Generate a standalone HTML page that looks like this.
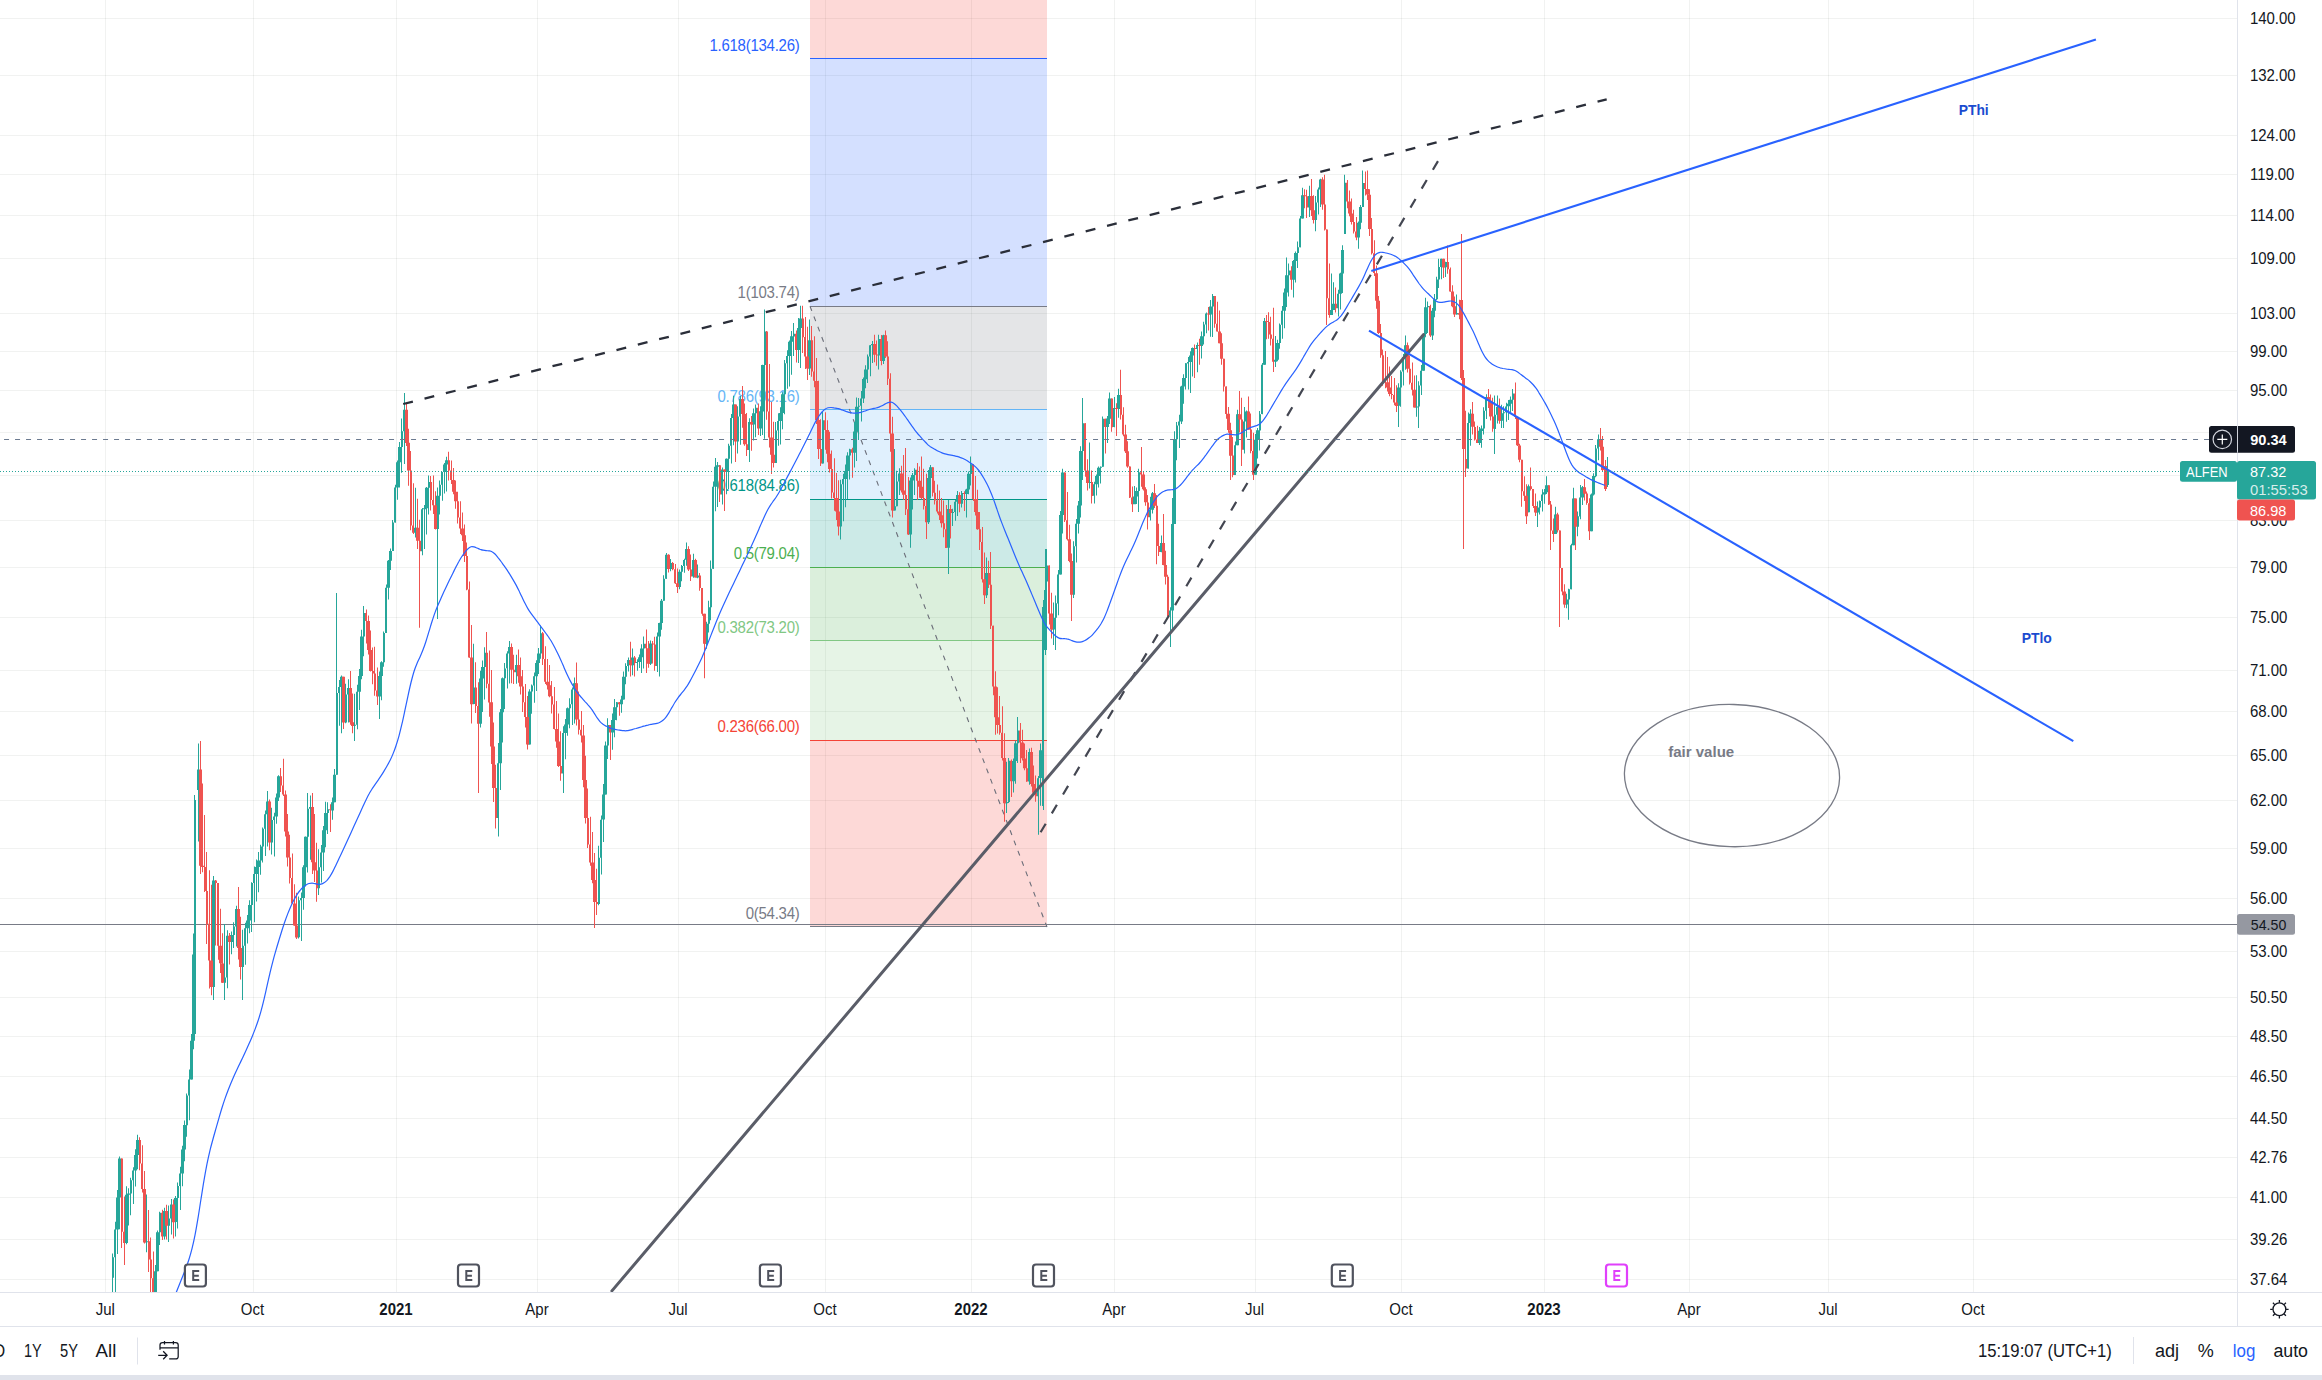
<!DOCTYPE html><html><head><meta charset="utf-8"><title>ALFEN chart</title><style>
html,body{margin:0;padding:0;width:2322px;height:1380px;overflow:hidden;background:#fff}
svg{position:absolute;left:0;top:0;font-family:"Liberation Sans",sans-serif}
.pl{font-size:15px;letter-spacing:-0.05px;fill:#131722}
.tl{font-size:15px;fill:#131722;text-anchor:middle}
.fb{font-size:15px;text-anchor:end;letter-spacing:-0.25px}
.bt{font-size:16.5px;fill:#131722}
</style></head><body>
<svg width="2322" height="1380" viewBox="0 0 2322 1380">
<defs><clipPath id="cp"><rect x="0" y="0" width="2237" height="1292"/></clipPath></defs>
<rect width="2322" height="1380" fill="#fff"/>
<path d="M0 18.5H2237M0 75.5H2237M0 135.5H2237M0 174.5H2237M0 215.5H2237M0 258.5H2237M0 313.5H2237M0 351.5H2237M0 390.5H2237M0 432.5H2237M0 475.5H2237M0 520.5H2237M0 567.5H2237M0 617.5H2237M0 670.5H2237M0 711.5H2237M0 755.5H2237M0 800.5H2237M0 848.5H2237M0 898.5H2237M0 951.5H2237M0 997.5H2237M0 1036.5H2237M0 1076.5H2237M0 1118.5H2237M0 1157.5H2237M0 1197.5H2237M0 1239.5H2237M0 1279.5H2237" stroke="#2e3a34" stroke-opacity="0.065" stroke-width="1" fill="none"/>
<path d="M105.5 0V1292M253.5 0V1292M396.5 0V1292M537.5 0V1292M678.5 0V1292M825.5 0V1292M971.5 0V1292M1114.5 0V1292M1255.5 0V1292M1401.5 0V1292M1544.5 0V1292M1689.5 0V1292M1828.5 0V1292M1973.5 0V1292" stroke="#2e3a34" stroke-opacity="0.065" stroke-width="1" fill="none"/>
<g clip-path="url(#cp)">
<rect x="810" y="740.3" width="237" height="186.5" fill="#f44336" fill-opacity="0.2"/>
<rect x="810" y="641" width="237" height="99.4" fill="#81c784" fill-opacity="0.2"/>
<rect x="810" y="567.3" width="237" height="73.7" fill="#4caf50" fill-opacity="0.2"/>
<rect x="810" y="499.1" width="237" height="68.2" fill="#009688" fill-opacity="0.2"/>
<rect x="810" y="409.6" width="237" height="89.5" fill="#64b5f6" fill-opacity="0.2"/>
<rect x="810" y="306.4" width="237" height="103.2" fill="#787b86" fill-opacity="0.2"/>
<rect x="810" y="58.9" width="237" height="247.5" fill="#2962ff" fill-opacity="0.2"/>
<rect x="810" y="0" width="237" height="58.9" fill="#f44336" fill-opacity="0.2"/>
<path d="M810 926.5H1047" stroke="#787b86" stroke-width="1.2"/>
<path d="M810 740.5H1047" stroke="#f44336" stroke-width="1.2"/>
<path d="M810 640.5H1047" stroke="#81c784" stroke-width="1.2"/>
<path d="M810 567.5H1047" stroke="#4caf50" stroke-width="1.2"/>
<path d="M810 499.5H1047" stroke="#009688" stroke-width="1.2"/>
<path d="M810 409.5H1047" stroke="#64b5f6" stroke-width="1.2"/>
<path d="M810 306.5H1047" stroke="#787b86" stroke-width="1.2"/>
<path d="M810 58.5H1047" stroke="#2962ff" stroke-width="1.2"/>
<path d="M810 306.2L1047 927" stroke="#6a6d78" stroke-width="1.1" stroke-dasharray="5 6" fill="none"/>
<text class="fb" transform="translate(799.5 918.8) scale(1 1.06)" fill="#787b86">0(54.34)</text>
<text class="fb" transform="translate(799.5 732.3) scale(1 1.06)" fill="#f44336">0.236(66.00)</text>
<text class="fb" transform="translate(799.5 633) scale(1 1.06)" fill="#81c784">0.382(73.20)</text>
<text class="fb" transform="translate(799.5 559.3) scale(1 1.06)" fill="#4caf50">0.5(79.04)</text>
<text class="fb" transform="translate(799.5 491.1) scale(1 1.06)" fill="#009688">0.618(84.86)</text>
<text class="fb" transform="translate(799.5 401.6) scale(1 1.06)" fill="#64b5f6">0.786(93.16)</text>
<text class="fb" transform="translate(799.5 298.4) scale(1 1.06)" fill="#787b86">1(103.74)</text>
<text class="fb" transform="translate(799.5 50.9) scale(1 1.06)" fill="#2962ff">1.618(134.26)</text>
<path d="M0 924.5H2237" stroke="#787b86" stroke-width="1"/>
<path d="M112 1253.6h1V1296.4h-1ZM115 1221.8h1V1300h-1ZM117 1190h1V1254.1h-1ZM119 1156.5h1V1229.3h-1ZM126 1186.2h1V1244.3h-1ZM128 1188.3h1V1225.6h-1ZM130 1177.8h1V1215.3h-1ZM133 1167.2h1V1203.9h-1ZM135 1149.3h1V1186.5h-1ZM137 1134.8h1V1169.3h-1ZM146 1194.4h1V1252.3h-1ZM155 1264.9h1V1300h-1ZM157 1230.4h1V1271.2h-1ZM159 1211.8h1V1244.9h-1ZM164 1207.8h1V1239.5h-1ZM168 1205.6h1V1242h-1ZM171 1199.1h1V1234.4h-1ZM175 1196h1V1236.4h-1ZM177 1182.6h1V1228.6h-1ZM180 1166.7h1V1210.1h-1ZM182 1145.8h1V1186.2h-1ZM184 1120.6h1V1161.3h-1ZM186 1093.5h1V1136.7h-1ZM189 1069.4h1V1120.2h-1ZM191 1034h1V1079.4h-1ZM193 933.5h1V1049.3h-1ZM194 795h1V1040h-1ZM198 743.5h1V841.4h-1ZM213 876.1h1V1000h-1ZM224 924.1h1V1000h-1ZM227 930.2h1V988.3h-1ZM231 931.4h1V954.2h-1ZM233 922.3h1V947.9h-1ZM236 905.7h1V946.5h-1ZM242 929.7h1V1000h-1ZM245 922.8h1V964.7h-1ZM247 915.1h1V943.5h-1ZM249 900.3h1V933.2h-1ZM251 882.3h1V931.9h-1ZM254 866.4h1V922.3h-1ZM256 859.5h1V901.5h-1ZM258 852h1V892.3h-1ZM260 844.8h1V874.7h-1ZM262 827.6h1V862.4h-1ZM265 810.5h1V855.9h-1ZM267 791h1V846.4h-1ZM271 807.7h1V854.5h-1ZM274 812.8h1V856.5h-1ZM276 793.6h1V823.7h-1ZM278 775.3h1V801.1h-1ZM298 896.5h1V938.6h-1ZM301 892.5h1V940.9h-1ZM303 865.3h1V909.8h-1ZM305 836.6h1V886.5h-1ZM307 793h1V872.4h-1ZM310 795.6h1V859.8h-1ZM318 849.2h1V895.1h-1ZM321 844.9h1V882.6h-1ZM323 826h1V871.1h-1ZM325 801.7h1V847.2h-1ZM327 802.3h1V834h-1ZM332 797.4h1V819.8h-1ZM334 769.1h1V802.2h-1ZM336 593h1V774.7h-1ZM339 679.9h1V725.8h-1ZM341 675.6h1V733.2h-1ZM345 683.8h1V723.3h-1ZM348 679.2h1V722.6h-1ZM354 693.7h1V741h-1ZM357 684.8h1V729.2h-1ZM359 669.1h1V710h-1ZM361 629.8h1V679.2h-1ZM363 606h1V656.3h-1ZM379 671.4h1V719h-1ZM381 661.2h1V700.3h-1ZM383 631.4h1V666.7h-1ZM386 584.4h1V633.1h-1ZM388 559.9h1V599.6h-1ZM390 548.4h1V570h-1ZM392 519.9h1V551.1h-1ZM395 484.7h1V522.6h-1ZM397 460.6h1V499.7h-1ZM399 441.9h1V487.6h-1ZM401 418.6h1V472.7h-1ZM404 393h1V464h-1ZM415 487.7h1V537.4h-1ZM422 508h1V555.2h-1ZM424 504.9h1V549h-1ZM426 486.9h1V534.4h-1ZM428 475.6h1V514.6h-1ZM437 487.6h1V619h-1ZM439 480.5h1V514.4h-1ZM442 471.9h1V500.7h-1ZM444 463h1V493.4h-1ZM446 456.7h1V491.5h-1ZM473 643.7h1V704.2h-1ZM480 670.8h1V727.5h-1ZM482 660.6h1V711.9h-1ZM484 647.3h1V699.6h-1ZM498 742.9h1V836.5h-1ZM500 709.1h1V789.9h-1ZM502 677.5h1V742.4h-1ZM504 663h1V709h-1ZM507 651.3h1V688.6h-1ZM509 641h1V683.5h-1ZM516 654.7h1V683.7h-1ZM529 689.3h1V744.6h-1ZM531 684.6h1V713.7h-1ZM534 672.6h1V702.8h-1ZM536 660.3h1V690.9h-1ZM538 648.1h1V674h-1ZM540 625.6h1V658.7h-1ZM563 726.2h1V793h-1ZM565 718.9h1V759.2h-1ZM567 707.5h1V735.8h-1ZM569 698.2h1V728.2h-1ZM572 687.6h1V724.9h-1ZM574 677.5h1V723.6h-1ZM598 845.7h1V905.2h-1ZM601 815.4h1V874.6h-1ZM603 784h1V842.1h-1ZM605 741.4h1V794.4h-1ZM607 718.3h1V759h-1ZM612 713.5h1V749.8h-1ZM614 699h1V737.3h-1ZM616 702.1h1V720.3h-1ZM621 695.7h1V712.7h-1ZM623 671.6h1V699.4h-1ZM625 663.2h1V684.3h-1ZM628 657.5h1V671.4h-1ZM632 648.4h1V675.2h-1ZM637 659.2h1V670.7h-1ZM639 654.6h1V668.1h-1ZM641 644.2h1V673h-1ZM643 636.5h1V668.5h-1ZM650 640.6h1V664.9h-1ZM657 632.5h1V671.9h-1ZM659 622.7h1V676.5h-1ZM661 599.1h1V629.7h-1ZM663 575.3h1V600.7h-1ZM666 553h1V578.8h-1ZM670 558.9h1V571.3h-1ZM679 569.5h1V589.3h-1ZM681 564.9h1V581.2h-1ZM684 558.7h1V572.7h-1ZM686 542.6h1V565.7h-1ZM693 553.8h1V577.8h-1ZM697 564.4h1V578.2h-1ZM706 621.7h1V648.8h-1ZM708 600.7h1V632.4h-1ZM710 560.6h1V620.2h-1ZM713 481.6h1V568.8h-1ZM715 458h1V511.3h-1ZM717 462h1V506.9h-1ZM722 467.5h1V504.4h-1ZM726 458.6h1V494.3h-1ZM728 443.8h1V488.9h-1ZM731 414h1V463.6h-1ZM733 395.7h1V445.3h-1ZM737 406.2h1V453.5h-1ZM740 396h1V444.7h-1ZM749 418.3h1V462h-1ZM753 408.4h1V440.5h-1ZM755 404.5h1V437.2h-1ZM760 406.3h1V436.1h-1ZM762 364.8h1V435.1h-1ZM764 309.6h1V438.7h-1ZM775 421.9h1V462.9h-1ZM778 413.3h1V445.7h-1ZM780 407.3h1V444.5h-1ZM782 392.2h1V429.3h-1ZM784 360h1V414.3h-1ZM787 350.2h1V388.7h-1ZM789 340.6h1V386.4h-1ZM791 330.9h1V374.8h-1ZM793 323h1V356.1h-1ZM798 318h1V362.9h-1ZM800 305.7h1V368h-1ZM809 319.5h1V375.1h-1ZM822 411.1h1V463.4h-1ZM840 479.8h1V539.5h-1ZM843 473.7h1V521.2h-1ZM845 464.5h1V507.2h-1ZM847 452.3h1V498.9h-1ZM849 448.8h1V479.6h-1ZM854 422h1V467.5h-1ZM856 397.6h1V461h-1ZM858 398h1V439.9h-1ZM861 390.9h1V421.4h-1ZM863 377.4h1V403.1h-1ZM865 365.3h1V388.2h-1ZM867 354.4h1V383.1h-1ZM870 345h1V376.3h-1ZM872 341.1h1V363.1h-1ZM878 334.8h1V369.6h-1ZM883 334.8h1V364h-1ZM894 448.9h1V510.4h-1ZM896 470.8h1V506.3h-1ZM899 468.2h1V495.1h-1ZM910 477.6h1V547.8h-1ZM912 473h1V509.5h-1ZM914 468.2h1V495.1h-1ZM928 470h1V523.9h-1ZM930 465h1V498.4h-1ZM948 500h1V574h-1ZM952 508.8h1V525.9h-1ZM955 500h1V520.7h-1ZM957 491h1V515.9h-1ZM961 491h1V507.5h-1ZM966 488.7h1V517.4h-1ZM968 471.5h1V494.3h-1ZM970 456.5h1V485.5h-1ZM986 557.4h1V598.1h-1ZM1006 761.8h1V813h-1ZM1008 758h1V803.1h-1ZM1013 758.4h1V792.4h-1ZM1015 740.7h1V783.7h-1ZM1017 717h1V763.1h-1ZM1029 748.6h1V784.7h-1ZM1038 775.9h1V834.8h-1ZM1040 743.6h1V805.8h-1ZM1043 600h1V810h-1ZM1045 549h1V655h-1ZM1046 549h1V619.6h-1ZM1053 602.5h1V645.1h-1ZM1055 595.5h1V650h-1ZM1058 569.9h1V615.2h-1ZM1060 511.1h1V574.5h-1ZM1062 468.7h1V533.4h-1ZM1073 541.2h1V598.1h-1ZM1076 519.1h1V562.6h-1ZM1078 501.1h1V533.6h-1ZM1080 446.3h1V517.4h-1ZM1082 398h1V480.1h-1ZM1089 442.6h1V488.4h-1ZM1094 481.7h1V503.5h-1ZM1096 474.5h1V495.5h-1ZM1098 466.5h1V487.4h-1ZM1100 466.6h1V483.4h-1ZM1102 416.5h1V466.8h-1ZM1107 415.9h1V442.9h-1ZM1109 392.6h1V424.1h-1ZM1114 397h1V427.2h-1ZM1118 388.8h1V417.7h-1ZM1134 486h1V504.1h-1ZM1136 487.4h1V503.9h-1ZM1138 468.8h1V512h-1ZM1150 496.8h1V520.6h-1ZM1152 492h1V513.5h-1ZM1161 535.5h1V552.3h-1ZM1170 607.3h1V647h-1ZM1172 497.9h1V629.7h-1ZM1174 431.2h1V523.9h-1ZM1176 422.1h1V460.3h-1ZM1179 414.7h1V448h-1ZM1181 385.8h1V423.9h-1ZM1183 374.2h1V403.8h-1ZM1185 363.2h1V389.6h-1ZM1188 357.1h1V389.5h-1ZM1190 351.2h1V393h-1ZM1192 347.5h1V376.5h-1ZM1197 342.4h1V372.2h-1ZM1201 331.4h1V358.5h-1ZM1203 321.7h1V344.4h-1ZM1206 312.4h1V333.2h-1ZM1210 300.1h1V336.8h-1ZM1212 294h1V337h-1ZM1235 441.4h1V475.1h-1ZM1237 409.8h1V445.3h-1ZM1244 407.1h1V453.5h-1ZM1246 410.6h1V437.5h-1ZM1255 434h1V474.8h-1ZM1257 428h1V458.6h-1ZM1259 410.9h1V450.6h-1ZM1262 362.9h1V414.2h-1ZM1264 317.9h1V364.8h-1ZM1275 336h1V367h-1ZM1277 339.7h1V361.2h-1ZM1279 323.5h1V348.7h-1ZM1282 306.1h1V338.7h-1ZM1284 288.6h1V328.3h-1ZM1286 257.4h1V307.1h-1ZM1288 263.5h1V296.4h-1ZM1293 260.1h1V297.4h-1ZM1295 251.4h1V282.4h-1ZM1297 241.5h1V267.9h-1ZM1300 216h1V247.2h-1ZM1302 187.8h1V218.4h-1ZM1309 185.7h1V217.1h-1ZM1315 195.9h1V231.3h-1ZM1318 187.6h1V214.4h-1ZM1320 178.8h1V207.1h-1ZM1331 273.5h1V315.1h-1ZM1333 282.2h1V309.9h-1ZM1338 289.8h1V316.5h-1ZM1340 272.8h1V309.6h-1ZM1342 245.3h1V292.9h-1ZM1344 174.8h1V234h-1ZM1358 221.5h1V248.7h-1ZM1360 205h1V229.2h-1ZM1362 170.4h1V207h-1ZM1398 383.3h1V427h-1ZM1400 370.3h1V406.8h-1ZM1403 354h1V385.5h-1ZM1405 335.6h1V369.8h-1ZM1416 375.3h1V416.8h-1ZM1418 381.3h1V428h-1ZM1421 365h1V395.1h-1ZM1423 333.4h1V370.8h-1ZM1425 297.8h1V337.3h-1ZM1427 301.4h1V332.9h-1ZM1432 308.1h1V340h-1ZM1434 293.9h1V317.3h-1ZM1436 276.7h1V300.1h-1ZM1438 258.7h1V288h-1ZM1441 258.7h1V279.2h-1ZM1445 261.8h1V277.1h-1ZM1456 294.6h1V314.6h-1ZM1468 412.4h1V468.5h-1ZM1470 409.2h1V445.8h-1ZM1479 427h1V445.1h-1ZM1481 425.4h1V447.8h-1ZM1483 407.2h1V434.4h-1ZM1486 394.2h1V419h-1ZM1494 395.6h1V454h-1ZM1497 395.6h1V423.5h-1ZM1501 404.8h1V428h-1ZM1503 406.3h1V428h-1ZM1506 402.8h1V421.8h-1ZM1508 400.1h1V420h-1ZM1510 396.5h1V412.5h-1ZM1512 388.9h1V410.9h-1ZM1528 484.5h1V512.3h-1ZM1537 501.5h1V527h-1ZM1539 500.5h1V514.4h-1ZM1542 489.3h1V511.6h-1ZM1544 489.1h1V503.7h-1ZM1546 476.2h1V494.1h-1ZM1555 506.7h1V534h-1ZM1566 593.7h1V608.3h-1ZM1568 588.8h1V619.7h-1ZM1571 543.7h1V589.3h-1ZM1573 487.8h1V545.3h-1ZM1577 511.4h1V536.3h-1ZM1580 485h1V519.2h-1ZM1582 485.9h1V505.1h-1ZM1591 493.6h1V531.2h-1ZM1593 473.3h1V495.5h-1ZM1595 444.9h1V477.2h-1ZM1598 434.5h1V460.3h-1ZM1607 457h1V487h-1Z" fill="#26a69a"/>
<path d="M112 1257.3h2v20.4h-2ZM114 1229.6h2v27.7h-2ZM116 1197.5h3v32.1h-3ZM118 1158.4h3v39.1h-3ZM125 1194.7h3v48.2h-3ZM127 1193.4h3v1.3h-3ZM130 1180.3h2v13.1h-2ZM132 1170.6h2v9.7h-2ZM134 1155h3v15.6h-3ZM136 1139.9h3v15.1h-3ZM145 1241.3h3v1h-3ZM154 1271.2h3v23.9h-3ZM156 1232.3h3v38.9h-3ZM159 1212.7h2v19.6h-2ZM163 1210.9h3v25.7h-3ZM168 1218.5h2v7.2h-2ZM170 1204.5h2v14h-2ZM174 1198h3v24.1h-3ZM177 1186h2v12.1h-2ZM179 1173.5h2v12.5h-2ZM181 1149.5h3v23.9h-3ZM183 1125.1h3v24.4h-3ZM186 1095.6h2v29.6h-2ZM188 1079.4h2v16.2h-2ZM190 1040.8h3v38.6h-3ZM192 954.4h3v86.4h-3ZM194 800h2v234h-2ZM197 769.4h2v20.5h-2ZM212 880.6h3v106.4h-3ZM224 977.4h2v5.3h-2ZM226 935.7h2v41.7h-2ZM230 935.1h3v7h-3ZM233 926.6h2v8.5h-2ZM235 909.1h2v17.4h-2ZM242 945.8h2v21.3h-2ZM244 928.3h2v17.5h-2ZM246 920.5h3v7.8h-3ZM248 905.1h3v15.4h-3ZM251 883.1h2v22h-2ZM253 874h2v9.1h-2ZM255 866.9h3v7.1h-3ZM257 860.6h3v6.3h-3ZM260 846.6h2v14h-2ZM262 828.8h2v17.8h-2ZM264 814.3h2v14.5h-2ZM266 801.4h3v12.9h-3ZM271 820.1h2v22.5h-2ZM273 816.5h2v3.5h-2ZM275 797.5h3v19.1h-3ZM277 776.3h3v21.2h-3ZM298 900.2h2v37.1h-2ZM300 898.1h2v2.2h-2ZM302 867.2h3v30.9h-3ZM304 836.7h3v30.5h-3ZM307 808.7h2v28h-2ZM309 807.1h2v1.6h-2ZM318 867.3h2v20.9h-2ZM320 852.5h2v14.8h-2ZM322 830.3h3v22.2h-3ZM324 812.9h3v17.4h-3ZM327 809.2h2v3.7h-2ZM331 802.2h3v8.2h-3ZM333 774.7h3v27.5h-3ZM336 693.1h2v81.6h-2ZM338 687h2v6.1h-2ZM340 676.7h3v10.3h-3ZM345 694.4h2v28.1h-2ZM347 688.1h2v6.3h-2ZM354 724.8h2v1h-2ZM356 691.7h2v33.1h-2ZM358 675.9h3v15.8h-3ZM360 636.6h3v39.3h-3ZM363 613h2v23.6h-2ZM378 675.9h3v20.6h-3ZM380 662.2h3v13.7h-3ZM383 633.1h2v29.1h-2ZM385 587.8h2v45.3h-2ZM387 560.7h3v27.1h-3ZM389 551.1h3v9.6h-3ZM392 522.6h2v28.4h-2ZM394 487.5h2v35.1h-2ZM396 462.3h3v25.1h-3ZM398 447h3v15.3h-3ZM401 431.2h2v15.8h-2ZM403 409.7h2v21.6h-2ZM414 527.8h3v4.9h-3ZM421 509.2h2v42h-2ZM423 508.2h3v1h-3ZM425 487.7h3v20.5h-3ZM428 481.9h2v5.8h-2ZM436 495.8h3v33.2h-3ZM439 484.8h2v11h-2ZM441 472h2v12.8h-2ZM443 464.5h3v7.6h-3ZM445 460.2h3v4.3h-3ZM472 687.4h3v16.7h-3ZM479 678.4h3v45.3h-3ZM481 667.1h3v11.4h-3ZM484 652.7h2v14.4h-2ZM497 763.3h2v54.6h-2ZM499 712.2h3v51h-3ZM501 678.2h3v34.1h-3ZM504 668.4h2v9.8h-2ZM506 653.6h2v14.7h-2ZM508 647h3v6.6h-3ZM515 664.9h2v7.3h-2ZM528 691.6h3v52.9h-3ZM531 685.5h2v6.1h-2ZM533 676.2h2v9.3h-2ZM535 662.9h3v13.3h-3ZM537 653.5h3v9.4h-3ZM540 633.2h2v20.3h-2ZM562 733h2v40.6h-2ZM564 724.6h3v8.3h-3ZM566 708.2h3v16.4h-3ZM569 704.3h2v4h-2ZM571 689.5h2v14.8h-2ZM573 683.2h3v6.3h-3ZM598 857.7h2v46.2h-2ZM600 819.7h2v38.1h-2ZM602 794.4h3v25.2h-3ZM604 745.5h3v49h-3ZM607 725.1h2v20.4h-2ZM611 720h3v12.5h-3ZM613 707.2h3v12.8h-3ZM616 702.2h2v5h-2ZM620 699.4h3v4.8h-3ZM622 676.8h3v22.6h-3ZM625 666.1h2v10.7h-2ZM627 659.9h2v6.1h-2ZM631 657.4h3v7.8h-3ZM636 662h2v1h-2ZM638 657.3h3v4.7h-3ZM640 648.5h3v8.7h-3ZM643 643.7h2v4.9h-2ZM649 643.4h3v20.3h-3ZM656 636.5h2v29.6h-2ZM658 623.1h3v13.4h-3ZM660 600.7h3v22.4h-3ZM663 578.8h2v21.9h-2ZM665 554.7h2v24.1h-2ZM669 562.9h3v6h-3ZM678 571.8h3v15.1h-3ZM681 566h2v5.8h-2ZM683 559.9h2v6.2h-2ZM685 549.1h3v10.7h-3ZM692 560h2v16.6h-2ZM696 575.4h3v2h-3ZM705 623.7h3v20h-3ZM708 607.3h2v16.4h-2ZM710 568.8h2v38.5h-2ZM712 486.8h2v81.9h-2ZM714 466.7h3v20.1h-3ZM716 465.3h3v1.4h-3ZM721 469.4h2v25h-2ZM725 458.7h3v13.2h-3ZM728 445.8h2v12.9h-2ZM730 418.1h2v27.7h-2ZM732 404.5h3v13.6h-3ZM737 416.5h2v25h-2ZM739 399h2v17.5h-2ZM748 422h2v27.9h-2ZM752 413.2h3v11.4h-3ZM755 407.7h2v5.5h-2ZM759 411.3h3v17.2h-3ZM761 365.1h3v46.3h-3ZM764 331.6h2v33.5h-2ZM775 430.4h2v32.5h-2ZM777 421.1h2v9.3h-2ZM779 412.9h3v8.2h-3ZM781 394.3h3v18.6h-3ZM784 363.3h2v31h-2ZM786 356h2v7.3h-2ZM788 341.8h3v14.2h-3ZM790 336.3h3v5.5h-3ZM793 333.7h2v2.7h-2ZM797 328.1h3v22h-3ZM799 318.4h3v9.7h-3ZM808 340.3h3v28.1h-3ZM822 420.2h2v43.2h-2ZM840 484.3h2v42.2h-2ZM842 479h2v5.3h-2ZM844 471.1h3v7.8h-3ZM846 455.6h3v15.5h-3ZM849 449.3h2v6.2h-2ZM853 431.6h3v21.2h-3ZM855 406.7h3v24.9h-3ZM858 405.7h2v1h-2ZM860 398.5h2v7.3h-2ZM862 379.1h3v19.3h-3ZM864 369.5h3v9.7h-3ZM867 356.5h2v13h-2ZM869 345.2h2v11.3h-2ZM871 343.9h3v1.3h-3ZM878 338.9h2v16.7h-2ZM882 335.2h3v25.7h-3ZM893 506.3h3v4.2h-3ZM896 481.5h2v24.8h-2ZM898 473.4h2v8.1h-2ZM909 480.5h3v54h-3ZM911 475.1h3v5.3h-3ZM914 469.8h2v5.3h-2ZM927 477.9h3v44.4h-3ZM929 467.3h3v10.6h-3ZM947 509.1h3v38.7h-3ZM952 512.1h2v1h-2ZM954 501.7h2v10.4h-2ZM956 495.1h3v6.6h-3ZM961 493.1h2v10.7h-2ZM965 489.6h3v4.5h-3ZM967 473.8h3v15.8h-3ZM970 464.3h2v9.6h-2ZM985 573.1h3v22.1h-3ZM1005 802h3v1.3h-3ZM1008 760.8h2v41.2h-2ZM1012 761h3v20.2h-3ZM1014 743.3h3v17.7h-3ZM1017 730.4h2v12.9h-2ZM1028 751.9h2v29.5h-2ZM1037 778.2h2v18.1h-2ZM1039 750.2h3v27.9h-3ZM1042 607h2v199h-2ZM1044 590h3v60h-3ZM1046 565.4h2v16h-2ZM1052 617.7h3v11.9h-3ZM1055 603.3h2v14.4h-2ZM1057 574.5h2v28.9h-2ZM1059 515.1h3v59.4h-3ZM1061 472.4h3v42.7h-3ZM1073 546.2h2v48.6h-2ZM1075 523.8h2v22.4h-2ZM1077 505.4h3v18.4h-3ZM1079 450.9h3v54.5h-3ZM1082 423.3h2v27.6h-2ZM1088 482.1h3v1h-3ZM1093 484.3h2v11.5h-2ZM1095 476h3v8.3h-3ZM1097 467.8h3v8.2h-3ZM1100 466.8h2v1h-2ZM1102 418.8h2v48h-2ZM1106 418.6h3v8.4h-3ZM1108 398.5h3v20.2h-3ZM1113 408h2v19.1h-2ZM1117 395h3v14h-3ZM1133 496.6h3v7.6h-3ZM1135 491.1h3v5.5h-3ZM1138 472.2h2v18.9h-2ZM1149 509.7h2v7.5h-2ZM1151 493.2h3v16.6h-3ZM1160 543.1h2v9h-2ZM1169 610.4h2v5.4h-2ZM1171 523.9h3v86.5h-3ZM1173 439.1h3v84.8h-3ZM1176 425.4h2v13.8h-2ZM1178 421.4h2v4h-2ZM1180 386.5h3v34.9h-3ZM1182 377.9h3v8.6h-3ZM1185 363.3h2v14.6h-2ZM1187 362.1h2v1.3h-2ZM1189 355.5h3v6.5h-3ZM1191 348h3v7.5h-3ZM1196 345h2v4h-2ZM1200 336.3h3v9.7h-3ZM1203 324.4h2v11.9h-2ZM1205 313.6h2v10.9h-2ZM1209 306.4h3v8.1h-3ZM1212 295.9h2v10.5h-2ZM1234 445.3h2v29.7h-2ZM1236 414.3h3v31h-3ZM1243 421.4h2v28.4h-2ZM1245 411.6h3v9.9h-3ZM1254 439.8h3v35h-3ZM1256 430.3h3v9.5h-3ZM1259 414.2h2v16.2h-2ZM1261 364.8h2v49.3h-2ZM1263 321h3v43.8h-3ZM1274 359.8h3v1.9h-3ZM1276 342.9h3v16.9h-3ZM1279 324.7h2v18.2h-2ZM1281 310.7h2v14h-2ZM1283 292.6h3v18.1h-3ZM1285 275.3h3v17.3h-3ZM1288 270.4h2v4.8h-2ZM1292 260.9h3v18.8h-3ZM1294 253h3v7.9h-3ZM1297 247.2h2v5.7h-2ZM1299 218.4h2v28.8h-2ZM1301 195.3h3v23.1h-3ZM1308 196.1h2v11.5h-2ZM1315 202.5h2v17.4h-2ZM1317 189.6h2v12.9h-2ZM1319 179.6h3v10h-3ZM1330 309.9h3v5.1h-3ZM1332 303.8h3v6.1h-3ZM1337 293.7h2v14.5h-2ZM1339 273.6h3v20.1h-3ZM1341 250.1h3v23.5h-3ZM1344 182.8h2v51.1h-2ZM1357 222.8h3v14.7h-3ZM1359 207h3v15.8h-3ZM1362 182.9h2v24.1h-2ZM1397 387.5h3v18.3h-3ZM1400 371.7h2v15.8h-2ZM1402 356.9h2v14.7h-2ZM1404 345.2h3v11.7h-3ZM1415 406.5h3v1h-3ZM1418 385.6h2v20.9h-2ZM1420 370.8h2v14.7h-2ZM1422 334h3v36.8h-3ZM1424 307.3h3v26.8h-3ZM1427 305.9h2v1.4h-2ZM1431 310.7h3v24.9h-3ZM1433 299.3h3v11.4h-3ZM1436 279.4h2v19.9h-2ZM1438 267h2v12.4h-2ZM1440 258.8h2v8.2h-2ZM1444 261.9h3v5.4h-3ZM1456 312.9h2v1.7h-2ZM1467 423.1h2v45.5h-2ZM1469 413.8h3v9.3h-3ZM1478 430.8h3v12.2h-3ZM1480 428.4h3v2.5h-3ZM1483 410.7h2v17.7h-2ZM1485 397.1h2v13.6h-2ZM1494 414.8h2v14.1h-2ZM1496 407.1h2v7.7h-2ZM1500 413.2h3v7.6h-3ZM1503 412.2h2v1h-2ZM1505 406.4h2v5.8h-2ZM1507 403.7h3v2.6h-3ZM1509 399.8h3v3.9h-3ZM1512 393.4h2v6.4h-2ZM1527 486.3h3v26h-3ZM1536 507.4h3v5.1h-3ZM1539 501h2v6.4h-2ZM1541 494.5h2v6.5h-2ZM1543 492.3h3v2.2h-3ZM1545 485.2h3v7.1h-3ZM1554 514.6h3v19.3h-3ZM1565 599.5h3v5h-3ZM1568 589.3h2v10.2h-2ZM1570 545.3h2v44h-2ZM1572 498.5h3v46.8h-3ZM1577 516.3h2v10.5h-2ZM1579 497.4h2v19h-2ZM1581 487.2h3v10.2h-3ZM1590 494.5h3v36.7h-3ZM1592 476.1h3v18.3h-3ZM1595 448.4h2v27.8h-2ZM1597 439.2h2v9.2h-2ZM1606 471.5h3v13.5h-3Z" fill="#26a69a"/>
<path d="M121 1158.4h1V1247.9h-1ZM124 1196.4h1V1265h-1ZM139 1137.3h1V1170.3h-1ZM142 1145.2h1V1192.5h-1ZM144 1171h1V1243.5h-1ZM148 1209.9h1V1272h-1ZM150 1237.5h1V1300h-1ZM153 1251.6h1V1298.9h-1ZM162 1209.7h1V1239.9h-1ZM166 1204.7h1V1239.5h-1ZM173 1199.4h1V1238.4h-1ZM200 741h1V874h-1ZM202 783.5h1V872.2h-1ZM204 815h1V892h-1ZM206 852.1h1V943.9h-1ZM209 870.2h1V988.5h-1ZM211 884.8h1V995.2h-1ZM215 879.9h1V945.4h-1ZM218 882.9h1V959.7h-1ZM220 908.8h1V972.9h-1ZM222 933.2h1V982.9h-1ZM229 932.9h1V964.5h-1ZM238 887h1V959.6h-1ZM240 916.8h1V979.5h-1ZM269 799.6h1V850.2h-1ZM280 768.1h1V791.9h-1ZM283 758.7h1V796.1h-1ZM285 790.6h1V836.6h-1ZM287 814.1h1V866.5h-1ZM289 834.8h1V883.4h-1ZM292 853.6h1V903.6h-1ZM294 884.3h1V925.8h-1ZM296 892.8h1V939h-1ZM312 793h1V874h-1ZM314 814.1h1V882h-1ZM316 842.7h1V901.7h-1ZM330 804.3h1V832.1h-1ZM343 676.7h1V729.1h-1ZM350 671h1V724.8h-1ZM352 693.5h1V733.2h-1ZM366 609.4h1V643.5h-1ZM368 615.6h1V654.4h-1ZM370 630.5h1V671.5h-1ZM372 647.5h1V684.2h-1ZM374 646.8h1V695.7h-1ZM377 667.5h1V704.9h-1ZM406 403.9h1V446.1h-1ZM408 428.7h1V485.8h-1ZM410 451h1V530.3h-1ZM413 483.2h1V534.1h-1ZM417 498.7h1V549h-1ZM419 519.7h1V627.8h-1ZM430 476h1V510.4h-1ZM433 475.6h1V514.1h-1ZM435 491.2h1V529.5h-1ZM448 451.7h1V480.4h-1ZM451 460.5h1V483.9h-1ZM453 467.9h1V494.3h-1ZM455 480.5h1V508.7h-1ZM457 491.8h1V523.6h-1ZM460 501.3h1V533.9h-1ZM462 512.6h1V541h-1ZM464 524.5h1V561.9h-1ZM466 542.4h1V590.2h-1ZM469 581.6h1V657.7h-1ZM471 624.9h1V723.5h-1ZM475 662.3h1V713h-1ZM478 682.3h1V793h-1ZM486 632h1V688.3h-1ZM489 650.6h1V716.7h-1ZM491 670.1h1V764h-1ZM493 722.5h1V802h-1ZM495 764.8h1V828.5h-1ZM511 643.5h1V683.2h-1ZM513 654.7h1V684h-1ZM518 649.6h1V682.7h-1ZM520 657.5h1V694.6h-1ZM522 670h1V712h-1ZM525 683.9h1V727.5h-1ZM527 696h1V749.6h-1ZM542 632h1V665h-1ZM545 646.2h1V684.1h-1ZM547 659.1h1V689.5h-1ZM549 665.1h1V697.3h-1ZM551 680.9h1V713.5h-1ZM554 687.1h1V729.6h-1ZM556 700.9h1V747.7h-1ZM558 713.5h1V766.9h-1ZM560 731.3h1V780.8h-1ZM576 662.6h1V725.4h-1ZM578 691.4h1V734.6h-1ZM581 711h1V742.5h-1ZM583 724.9h1V787.2h-1ZM585 755.7h1V823.6h-1ZM587 788.6h1V848.1h-1ZM590 816.7h1V865.8h-1ZM592 831.9h1V883.3h-1ZM594 853h1V928h-1ZM596 868.8h1V915h-1ZM610 725.1h1V760h-1ZM619 701.9h1V715.8h-1ZM630 641.7h1V676.5h-1ZM634 656h1V676.5h-1ZM646 629.6h1V673h-1ZM648 641h1V667.8h-1ZM652 640.9h1V663.5h-1ZM654 636.7h1V670.8h-1ZM668 554.3h1V572.6h-1ZM672 562h1V570.2h-1ZM675 564h1V584h-1ZM677 568.4h1V593h-1ZM688 546.2h1V571.1h-1ZM690 554.6h1V580.9h-1ZM695 558.7h1V577.4h-1ZM699 572.9h1V590.8h-1ZM702 588h1V615.8h-1ZM704 613.7h1V678.3h-1ZM719 465h1V502h-1ZM724 469.4h1V511h-1ZM735 404.5h1V462h-1ZM742 386h1V427.7h-1ZM744 403.4h1V445.7h-1ZM746 413.1h1V455.9h-1ZM751 416.1h1V450.7h-1ZM758 403.5h1V435.1h-1ZM766 330.9h1V419.8h-1ZM769 363.9h1V447.6h-1ZM771 402h1V474h-1ZM773 421.7h1V467.5h-1ZM796 330.5h1V362.6h-1ZM802 305.7h1V353.1h-1ZM805 316.9h1V369h-1ZM807 326.8h1V380h-1ZM811 325.9h1V376.7h-1ZM814 336.3h1V387.2h-1ZM816 357.9h1V424.1h-1ZM818 380.7h1V458.9h-1ZM820 419.3h1V466h-1ZM825 412.2h1V449.8h-1ZM827 420.3h1V462.3h-1ZM829 431.8h1V472.5h-1ZM831 450.4h1V498.5h-1ZM834 458.3h1V510.8h-1ZM836 473h1V519.9h-1ZM838 480.2h1V535.4h-1ZM852 447.7h1V477.8h-1ZM874 334.8h1V362.2h-1ZM876 340.6h1V365.7h-1ZM881 335.1h1V365.3h-1ZM885 330.4h1V358.1h-1ZM887 341.3h1V385h-1ZM890 373.2h1V451.7h-1ZM892 416.7h1V517.4h-1ZM901 465.7h1V492.5h-1ZM903 454.9h1V500h-1ZM905 448h1V514.9h-1ZM908 476.9h1V535.1h-1ZM917 463.1h1V500h-1ZM919 466.6h1V497.7h-1ZM921 456.5h1V499.6h-1ZM923 468.8h1V509.4h-1ZM926 473.7h1V539h-1ZM932 467.3h1V496.4h-1ZM934 480.8h1V504.6h-1ZM937 484.6h1V513.4h-1ZM939 490.4h1V520.1h-1ZM941 498h1V527.5h-1ZM943 500.5h1V537.2h-1ZM946 505.1h1V548h-1ZM950 505h1V538.4h-1ZM959 492.2h1V512.3h-1ZM964 491.3h1V511.1h-1ZM973 464.3h1V501h-1ZM975 476h1V515.6h-1ZM977 489.8h1V529.8h-1ZM979 512.1h1V549.9h-1ZM982 527.1h1V582.6h-1ZM984 552.5h1V604h-1ZM988 560.7h1V587.9h-1ZM990 552h1V628.9h-1ZM993 625.7h1V695.3h-1ZM995 671.2h1V734.8h-1ZM997 687.3h1V733.6h-1ZM999 696h1V734.7h-1ZM1002 706.3h1V760.4h-1ZM1004 733.3h1V821.7h-1ZM1011 759.5h1V796.9h-1ZM1020 723h1V763h-1ZM1022 729.7h1V760.5h-1ZM1024 743.6h1V770.3h-1ZM1026 750h1V781.8h-1ZM1031 747.8h1V786.5h-1ZM1033 765.4h1V793.7h-1ZM1035 775.4h1V801.7h-1ZM1049 565.4h1V624.5h-1ZM1051 592.7h1V638.4h-1ZM1064 472.4h1V522h-1ZM1067 492.1h1V540.4h-1ZM1069 524.7h1V562.3h-1ZM1071 553.4h1V621h-1ZM1085 423.3h1V476.8h-1ZM1087 459.3h1V490.4h-1ZM1091 470.6h1V503.5h-1ZM1105 418.8h1V453.5h-1ZM1111 398.5h1V431.7h-1ZM1116 403.3h1V436h-1ZM1120 369.8h1V419.4h-1ZM1123 407.2h1V436.3h-1ZM1125 424.8h1V452.9h-1ZM1127 441.2h1V467.7h-1ZM1129 466.4h1V498h-1ZM1132 486.5h1V512h-1ZM1141 447h1V486.8h-1ZM1143 471.6h1V490.4h-1ZM1145 487.2h1V505.8h-1ZM1147 495h1V529.6h-1ZM1154 484h1V507.9h-1ZM1156 495h1V564.3h-1ZM1158 523.7h1V556.1h-1ZM1163 514h1V565.2h-1ZM1165 550.8h1V584.4h-1ZM1167 574.7h1V616.1h-1ZM1194 344.6h1V378h-1ZM1199 338.7h1V364.7h-1ZM1208 306.9h1V330.4h-1ZM1214 295.9h1V327.7h-1ZM1217 301.8h1V331.5h-1ZM1219 310.5h1V343.3h-1ZM1221 333.2h1V364.8h-1ZM1223 358.7h1V391.4h-1ZM1226 386.5h1V418.8h-1ZM1228 406.9h1V432.8h-1ZM1230 422.8h1V480h-1ZM1232 437.1h1V477.2h-1ZM1239 391h1V432.5h-1ZM1241 397.7h1V466h-1ZM1248 396.5h1V429.7h-1ZM1250 413.6h1V453.3h-1ZM1253 432.7h1V480h-1ZM1266 315.1h1V339.3h-1ZM1268 312.2h1V338.7h-1ZM1270 316.7h1V345.4h-1ZM1273 307.8h1V372h-1ZM1291 266.3h1V289.8h-1ZM1304 189.2h1V208.2h-1ZM1306 189.7h1V218h-1ZM1311 179h1V216h-1ZM1313 195.2h1V223.6h-1ZM1322 177.2h1V209.8h-1ZM1324 174.8h1V230.4h-1ZM1326 229.6h1V325h-1ZM1329 263.5h1V317.8h-1ZM1335 287.6h1V312.6h-1ZM1347 180h1V208.3h-1ZM1349 190.6h1V216.3h-1ZM1351 198.4h1V224.4h-1ZM1353 209.7h1V233.6h-1ZM1356 216.9h1V240.2h-1ZM1365 171.6h1V195.4h-1ZM1367 170.4h1V199.9h-1ZM1369 189.3h1V235.9h-1ZM1371 218h1V254.5h-1ZM1374 240.3h1V276.1h-1ZM1376 265.5h1V308.8h-1ZM1378 295.9h1V334h-1ZM1380 324.1h1V357.8h-1ZM1382 349.5h1V385.7h-1ZM1385 351.1h1V388.2h-1ZM1387 356.9h1V391.4h-1ZM1389 366.5h1V396.2h-1ZM1391 375.9h1V399.2h-1ZM1394 378h1V405.2h-1ZM1396 385.3h1V412h-1ZM1407 342.4h1V372.6h-1ZM1409 355.4h1V384.4h-1ZM1412 362.4h1V395.4h-1ZM1414 375.5h1V407.6h-1ZM1430 304.7h1V337.1h-1ZM1443 258.7h1V278.1h-1ZM1447 245.6h1V273.7h-1ZM1450 267.6h1V291.8h-1ZM1452 285.3h1V307.2h-1ZM1454 296.6h1V317h-1ZM1459 299.8h1V319.3h-1ZM1461 234h1V380h-1ZM1463 370h1V549h-1ZM1465 410.7h1V477h-1ZM1472 402h1V434.5h-1ZM1474 421.4h1V440.4h-1ZM1477 425.8h1V443.1h-1ZM1488 389h1V408h-1ZM1490 394.6h1V420.4h-1ZM1492 397.7h1V431.7h-1ZM1499 398.6h1V423.7h-1ZM1515 382.6h1V419h-1ZM1517 417h1V445.9h-1ZM1519 443.8h1V462.2h-1ZM1521 459.7h1V506.7h-1ZM1524 476.2h1V501h-1ZM1526 484.2h1V524h-1ZM1530 467.5h1V490.4h-1ZM1533 489.1h1V508h-1ZM1535 493.6h1V516h-1ZM1548 485.2h1V505.1h-1ZM1550 500.9h1V550h-1ZM1553 518.5h1V542.1h-1ZM1557 512.7h1V532.5h-1ZM1559 530.4h1V627h-1ZM1562 567.9h1V595.3h-1ZM1564 584.3h1V607.7h-1ZM1575 498.5h1V550h-1ZM1584 479.1h1V500.6h-1ZM1586 491.4h1V504.7h-1ZM1589 498.2h1V540h-1ZM1600 428h1V450.5h-1ZM1602 435.9h1V471.8h-1ZM1605 460h1V491h-1Z" fill="#ef5350"/>
<path d="M121 1158.4h2v73.4h-2ZM123 1231.8h2v11.1h-2ZM139 1139.9h2v23.6h-2ZM141 1163.5h2v25.6h-2ZM143 1189.1h3v53.3h-3ZM148 1241.3h2v18.3h-2ZM150 1259.6h2v18.7h-2ZM152 1278.3h2v16.8h-2ZM161 1212.7h2v23.9h-2ZM165 1210.9h3v14.8h-3ZM172 1204.5h3v17.7h-3ZM199 769.4h3v96.3h-3ZM201 865.7h3v1.2h-3ZM204 867h2v23.9h-2ZM206 890.9h2v33h-2ZM208 923.8h2v36.7h-2ZM210 960.5h3v26.5h-3ZM215 880.6h2v2.3h-2ZM217 882.9h2v62.9h-2ZM219 945.7h3v17.6h-3ZM221 963.4h3v19.4h-3ZM228 935.7h3v6.3h-3ZM237 909.1h3v38.8h-3ZM239 947.9h3v19.1h-3ZM268 801.4h3v41.1h-3ZM280 776.3h2v9.1h-2ZM282 785.4h2v9h-2ZM284 794.4h3v37h-3ZM286 831.4h3v26h-3ZM289 857.4h2v20.5h-2ZM291 877.9h2v25.6h-2ZM293 903.4h3v22h-3ZM295 925.5h3v11.9h-3ZM311 807.1h3v55.2h-3ZM313 862.3h3v8.2h-3ZM316 870.5h2v17.7h-2ZM329 809.2h2v1.1h-2ZM342 676.7h3v45.8h-3ZM349 688.1h3v34.1h-3ZM351 722.2h3v3.7h-3ZM365 613h2v8h-2ZM367 621h3v29h-3ZM369 650h3v20.9h-3ZM372 670.9h2v2.7h-2ZM374 673.6h2v17h-2ZM376 690.6h2v5.8h-2ZM405 409.7h3v33.2h-3ZM407 442.8h3v27.7h-3ZM410 470.5h2v55.1h-2ZM412 525.6h2v7.1h-2ZM416 527.8h3v13h-3ZM419 540.8h2v10.4h-2ZM430 481.9h2v18.1h-2ZM432 500h2v5.3h-2ZM434 505.2h3v23.7h-3ZM448 460.2h2v10.3h-2ZM450 470.5h2v9.5h-2ZM452 480h3v11.8h-3ZM454 491.7h3v9.5h-3ZM457 501.3h2v16.2h-2ZM459 517.4h2v11.2h-2ZM461 528.6h3v6.6h-3ZM463 535.2h3v20.8h-3ZM466 556h2v33.5h-2ZM468 589.5h2v68h-2ZM470 657.5h3v46.7h-3ZM475 687.4h2v18.5h-2ZM477 706h2v17.7h-2ZM486 652.7h2v31.1h-2ZM488 683.8h2v18.6h-2ZM490 702.3h3v44.1h-3ZM492 746.4h3v41.7h-3ZM495 788.1h2v29.8h-2ZM510 647h3v22.7h-3ZM513 669.7h2v2.5h-2ZM517 664.9h3v11.3h-3ZM519 676.2h3v10.3h-3ZM522 686.6h2v15.7h-2ZM524 702.3h2v14.8h-2ZM526 717.1h3v27.5h-3ZM542 633.2h2v25.9h-2ZM544 659.1h2v22.7h-2ZM546 681.8h3v3.5h-3ZM548 685.3h3v10.9h-3ZM551 696.2h2v8.4h-2ZM553 704.6h2v24.5h-2ZM555 729.1h3v12.4h-3ZM557 741.4h3v24.7h-3ZM560 766.1h2v7.5h-2ZM575 683.2h3v36.2h-3ZM578 719.4h2v10.3h-2ZM580 729.7h2v5.9h-2ZM582 735.6h3v44.5h-3ZM584 780.1h3v37.9h-3ZM587 818h2v26.5h-2ZM589 844.5h2v17.9h-2ZM591 862.4h3v17.6h-3ZM593 880h3v21.9h-3ZM596 901.9h2v2.1h-2ZM609 725.1h2v7.5h-2ZM618 702.2h2v2h-2ZM629 659.9h3v5.3h-3ZM634 657.4h2v5.6h-2ZM645 643.7h2v4.5h-2ZM647 648.2h3v15.5h-3ZM652 643.4h2v1h-2ZM654 644.4h2v21.7h-2ZM667 554.7h3v14.2h-3ZM672 562.9h2v6.3h-2ZM674 569.2h2v14h-2ZM676 583.2h3v3.7h-3ZM687 549.1h3v20.5h-3ZM690 569.6h2v7h-2ZM694 560h3v17.4h-3ZM699 575.4h2v12.6h-2ZM701 588h2v25.7h-2ZM703 613.7h3v30h-3ZM719 465.3h2v29.1h-2ZM723 469.4h3v2.4h-3ZM734 404.5h3v37h-3ZM741 399h3v15.1h-3ZM743 414.1h3v30.2h-3ZM746 444.2h2v5.7h-2ZM750 422h3v2.6h-3ZM757 407.7h2v20.8h-2ZM766 331.6h2v79.8h-2ZM768 411.4h2v26.1h-2ZM770 437.5h3v17.3h-3ZM772 454.8h3v8.1h-3ZM795 333.7h2v16.4h-2ZM802 318.4h2v18.8h-2ZM804 337.1h2v19.4h-2ZM806 356.5h3v11.9h-3ZM811 340.3h2v31.1h-2ZM813 371.4h2v9.4h-2ZM815 380.9h3v39.1h-3ZM817 419.9h3v29h-3ZM820 448.9h2v14.5h-2ZM824 420.2h2v9.7h-2ZM826 429.9h3v23.8h-3ZM828 453.8h3v15.2h-3ZM831 469h2v23.6h-2ZM833 492.5h2v5.6h-2ZM835 498.1h3v13.5h-3ZM837 511.6h3v14.8h-3ZM851 449.3h2v3.5h-2ZM873 343.9h3v10.8h-3ZM876 354.6h2v1h-2ZM880 338.9h2v22h-2ZM884 335.2h3v21.4h-3ZM887 356.6h2v22.1h-2ZM889 378.7h2v54.7h-2ZM891 433.4h3v77h-3ZM900 473.4h3v17h-3ZM902 490.4h3v4.4h-3ZM905 494.9h2v14.4h-2ZM907 509.3h2v25.2h-2ZM916 469.8h2v11h-2ZM918 480.8h3v6h-3ZM920 486.8h3v11.3h-3ZM923 498.1h2v8h-2ZM925 506.1h2v16.2h-2ZM932 467.3h2v25.5h-2ZM934 492.8h2v7.6h-2ZM936 500.4h2v11.2h-2ZM938 511.6h3v3.6h-3ZM940 515.2h3v8h-3ZM943 523.2h2v6h-2ZM945 529.2h2v18.7h-2ZM949 509.1h3v4h-3ZM958 495.1h3v8.7h-3ZM963 493.1h2v1h-2ZM972 464.3h2v34.6h-2ZM974 498.9h3v13.1h-3ZM976 512h3v17.3h-3ZM979 529.3h2v12.8h-2ZM981 542.1h2v37.1h-2ZM983 579.2h3v16.1h-3ZM988 573.1h2v11.7h-2ZM990 584.8h2v41h-2ZM992 625.8h2v60.6h-2ZM994 686.5h3v30.8h-3ZM996 717.3h3v7.8h-3ZM999 725h2v7.7h-2ZM1001 732.7h2v25.3h-2ZM1003 758h3v45.3h-3ZM1010 760.8h2v20.4h-2ZM1019 730.4h2v12.1h-2ZM1021 742.5h3v15.8h-3ZM1023 758.4h3v9.8h-3ZM1026 768.2h2v13.2h-2ZM1030 751.9h3v32.1h-3ZM1032 784h3v8.7h-3ZM1035 792.7h2v3.6h-2ZM1048 565.4h2v48h-2ZM1050 613.4h3v16.2h-3ZM1064 472.4h2v47.8h-2ZM1066 520.2h2v19.1h-2ZM1068 539.3h3v21.8h-3ZM1070 561.1h3v33.6h-3ZM1084 423.3h2v47.3h-2ZM1086 470.5h3v12.5h-3ZM1091 482.1h2v13.8h-2ZM1104 418.8h2v8.3h-2ZM1111 398.5h2v28.7h-2ZM1115 408h3v1h-3ZM1120 395h2v19.8h-2ZM1122 414.8h2v19.6h-2ZM1124 434.4h3v16.9h-3ZM1126 451.3h3v15.1h-3ZM1129 466.5h2v31.1h-2ZM1131 497.6h2v6.6h-2ZM1140 472.2h2v2.3h-2ZM1142 474.4h3v14.8h-3ZM1144 489.2h3v13.1h-3ZM1147 502.4h2v14.9h-2ZM1153 493.2h3v12.6h-3ZM1156 505.7h2v40.3h-2ZM1158 546h2v6.1h-2ZM1162 543.1h3v21.8h-3ZM1164 564.9h3v11.8h-3ZM1167 576.7h2v39.2h-2ZM1194 348h2v1h-2ZM1198 345h3v1h-3ZM1207 313.6h3v1h-3ZM1214 295.9h2v27.8h-2ZM1216 323.7h2v7.7h-2ZM1218 331.5h3v11.8h-3ZM1220 343.3h3v15.4h-3ZM1223 358.7h2v27.8h-2ZM1225 386.5h2v27.4h-2ZM1227 413.8h3v16.3h-3ZM1229 430.2h3v25.5h-3ZM1232 455.6h2v19.5h-2ZM1238 414.3h3v5.1h-3ZM1241 419.4h2v30.4h-2ZM1247 411.6h3v18.1h-3ZM1250 429.6h2v21.3h-2ZM1252 450.9h2v23.9h-2ZM1265 321h3v1h-3ZM1268 322.1h2v12.3h-2ZM1270 334.4h2v4.4h-2ZM1272 338.8h2v22.9h-2ZM1290 270.4h2v9.3h-2ZM1303 195.3h3v1h-3ZM1306 196.3h2v11.3h-2ZM1310 196.1h3v14.2h-3ZM1312 210.3h3v9.7h-3ZM1321 179.6h3v25h-3ZM1324 204.6h2v25h-2ZM1326 229.6h2v68.6h-2ZM1328 298.2h2v16.8h-2ZM1335 303.8h2v4.4h-2ZM1346 182.8h2v18.7h-2ZM1348 201.5h3v12h-3ZM1350 213.5h3v8.6h-3ZM1353 222.1h2v9.3h-2ZM1355 231.4h2v6.2h-2ZM1364 182.9h2v6.2h-2ZM1366 189.1h3v5.5h-3ZM1368 194.7h3v34.3h-3ZM1371 228.9h2v24.3h-2ZM1373 253.2h2v19.9h-2ZM1375 273.2h3v27.5h-3ZM1377 300.7h3v32.3h-3ZM1380 333h2v22.3h-2ZM1382 355.3h2v25.9h-2ZM1384 381.3h2v1h-2ZM1386 382.3h3v5.3h-3ZM1388 387.6h3v6.3h-3ZM1391 393.9h2v1h-2ZM1393 394.9h2v7.6h-2ZM1395 402.6h3v3.3h-3ZM1406 345.2h3v23.5h-3ZM1409 368.7h2v14h-2ZM1411 382.7h2v7h-2ZM1413 389.7h3v17.8h-3ZM1429 305.9h2v29.7h-2ZM1442 258.8h3v8.6h-3ZM1447 261.9h2v7.3h-2ZM1449 269.2h2v22.4h-2ZM1451 291.6h3v14.6h-3ZM1453 306.2h3v8.4h-3ZM1458 312.9h2v1.9h-2ZM1460 300h3v78h-3ZM1462 378h3v71h-3ZM1465 459.1h2v9.5h-2ZM1471 413.8h3v13h-3ZM1474 426.9h2v12.5h-2ZM1476 439.4h2v3.7h-2ZM1487 397.1h3v3.6h-3ZM1489 400.7h3v15.8h-3ZM1492 416.4h2v12.4h-2ZM1498 407.1h3v13.7h-3ZM1514 393.4h2v23.7h-2ZM1516 417h3v28.3h-3ZM1518 445.4h3v14.3h-3ZM1521 459.7h2v31.5h-2ZM1523 491.2h2v4.5h-2ZM1525 495.7h3v20.5h-3ZM1530 486.3h2v2.8h-2ZM1532 489.1h2v16.9h-2ZM1534 506h3v6.5h-3ZM1548 485.2h2v19.2h-2ZM1550 504.4h2v26.2h-2ZM1552 530.5h2v3.4h-2ZM1556 514.6h3v15.7h-3ZM1559 530.4h2v37.6h-2ZM1561 567.9h2v23.6h-2ZM1563 591.6h3v12.9h-3ZM1574 498.5h3v28.3h-3ZM1583 487.2h3v6.5h-3ZM1586 493.6h2v9.5h-2ZM1588 503.2h2v28h-2ZM1599 439.2h3v7.5h-3ZM1601 446.7h3v23.2h-3ZM1604 466h3v23h-3Z" fill="#ef5350"/>
<path d="M165 1320C165.5 1318.7 167 1314.6 168 1312.2C169 1309.7 170 1307.6 171 1305.2C172 1302.8 173 1300.3 174 1297.9C175 1295.4 176 1293 177 1290.5C178 1288 179 1285.5 180 1283C181 1280.5 182 1278.1 183 1275.6C184 1273 185 1270.6 186 1267.9C187 1265.2 188 1262.5 189 1259.3C190 1256.1 191 1252.7 192 1248.7C193 1244.7 194 1240.3 195 1235.2C196 1230.1 197 1224.2 198 1218.2C199 1212.2 200 1205.3 201 1199C202 1192.7 203 1186.1 204 1180.3C205 1174.4 206 1168.8 207 1163.8C208 1158.9 209 1154.5 210 1150.3C211 1146.2 212 1142.7 213 1139C214 1135.3 215 1131.9 216 1128.4C217 1124.8 218 1121.2 219 1117.8C220 1114.3 221 1110.9 222 1107.7C223 1104.5 224 1101.5 225 1098.6C226 1095.8 227 1093.1 228 1090.5C229 1087.9 230 1085.4 231 1083C232 1080.5 233 1078.2 234 1075.9C235 1073.6 236 1071.5 237 1069.4C238 1067.3 239 1065.3 240 1063.2C241 1061.1 242 1059.1 243 1056.9C244 1054.8 245 1052.7 246 1050.5C247 1048.3 248 1046.1 249 1043.8C250 1041.6 251 1039.3 252 1036.9C253 1034.5 254 1032 255 1029.4C256 1026.7 257 1024 258 1021C259 1018 260 1014.8 261 1011.2C262 1007.6 263 1003.6 264 999.4C265 995.2 266 990.6 267 986.2C268 981.7 269 977.1 270 972.9C271 968.6 272 964.6 273 960.8C274 957 275 953.6 276 950.1C277 946.6 278 943.3 279 940C280 936.7 281 933.4 282 930.2C283 927.1 284 924 285 921.2C286 918.3 287 915.7 288 913.1C289 910.6 290 908.2 291 905.9C292 903.7 293 901.6 294 899.7C295 897.8 296 896.2 297 894.6C298 893.1 299 891.7 300 890.5C301 889.2 302 888.1 303 887.2C304 886.3 305 885.5 306 884.9C307 884.3 308 883.8 309 883.5C310 883.2 311 883.2 312 883.2C313 883.2 314 883.5 315 883.7C316 883.9 317 884.2 318 884.3C319 884.4 320 884.4 321 884.1C322 883.9 323 883.5 324 882.8C325 882.2 326 881.3 327 880.3C328 879.2 329 877.9 330 876.4C331 874.8 332 873 333 871.1C334 869.2 335 867 336 864.9C337 862.9 338 860.7 339 858.6C340 856.5 341 854.4 342 852.2C343 850.1 344 847.9 345 845.8C346 843.6 347 841.4 348 839.2C349 837.1 350 834.9 351 832.7C352 830.5 353 828.3 354 826.1C355 823.9 356 821.7 357 819.5C358 817.3 359 815.1 360 812.9C361 810.7 362 808.5 363 806.3C364 804.2 365 801.9 366 799.9C367 797.8 368 795.8 369 794C370 792.1 371 790.6 372 789C373 787.4 374 786.1 375 784.6C376 783.2 377 781.8 378 780.3C379 778.9 380 777.4 381 775.9C382 774.4 383 772.8 384 771.1C385 769.5 386 767.8 387 766C388 764.3 389 762.5 390 760.5C391 758.5 392 756.4 393 753.9C394 751.5 395 748.8 396 745.7C397 742.7 398 739.4 399 735.8C400 732.1 401 728 402 723.7C403 719.4 404 714.6 405 709.9C406 705.3 407 700.4 408 695.8C409 691.2 410 686.6 411 682.5C412 678.5 413 674.7 414 671.5C415 668.4 416 665.9 417 663.5C418 661.1 419 659.2 420 656.9C421 654.6 422 652.5 423 649.8C424 647.2 425 644.3 426 641.2C427 638.1 428 634.7 429 631.4C430 628.1 431 624.6 432 621.5C433 618.4 434 615.3 435 612.6C436 609.8 437 607.4 438 605C439 602.6 440 600.5 441 598.2C442 596 443 593.8 444 591.6C445 589.4 446 587.3 447 585.2C448 583 449 581 450 578.9C451 576.9 452 574.9 453 572.9C454 570.9 455 568.8 456 566.9C457 565 458 563 459 561.3C460 559.5 461 557.9 462 556.3C463 554.8 464 553.3 465 552.1C466 550.8 467 549.5 468 548.7C469 547.8 470 547.1 471 546.8C472 546.5 473 546.7 474 546.9C475 547.1 476 547.6 477 548C478 548.4 479 548.9 480 549.3C481 549.6 482 550 483 550.2C484 550.4 485 550.6 486 550.7C487 550.8 488 550.7 489 550.8C490 551 491 551.1 492 551.7C493 552.2 494 553 495 554C496 555 497 556.3 498 557.6C499 558.8 500 560.2 501 561.5C502 562.9 503 564.2 504 565.6C505 567 506 568.4 507 569.9C508 571.4 509 573 510 574.6C511 576.2 512 577.9 513 579.6C514 581.3 515 583.1 516 584.9C517 586.8 518 588.8 519 590.8C520 592.9 521 595.1 522 597.1C523 599.2 524 601.4 525 603.3C526 605.3 527 607.2 528 608.9C529 610.6 530 612 531 613.4C532 614.9 533 616.1 534 617.4C535 618.7 536 620 537 621.3C538 622.6 539 624 540 625.3C541 626.6 542 628 543 629.4C544 630.7 545 632.1 546 633.5C547 634.9 548 636.2 549 637.7C550 639.3 551 640.8 552 642.5C553 644.2 554 646.1 555 648C556 650 557 652 558 654.1C559 656.1 560 658.3 561 660.5C562 662.7 563 665.1 564 667.4C565 669.7 566 672.1 567 674.3C568 676.4 569 678.5 570 680.4C571 682.3 572 684.1 573 685.8C574 687.5 575 689.1 576 690.6C577 692 578 693.4 579 694.6C580 695.9 581 697.1 582 698.2C583 699.4 584 700.5 585 701.6C586 702.6 587 703.6 588 704.8C589 705.9 590 707 591 708.4C592 709.7 593 711.3 594 712.9C595 714.4 596 716.2 597 717.7C598 719.1 599 720.5 600 721.6C601 722.7 602 723.5 603 724.3C604 725 605 725.6 606 726.1C607 726.7 608 727.2 609 727.6C610 728.1 611 728.4 612 728.7C613 729 614 729.2 615 729.4C616 729.6 617 729.8 618 730C619 730.1 620 730.3 621 730.4C622 730.6 623 730.7 624 730.7C625 730.8 626 730.8 627 730.7C628 730.6 629 730.3 630 730.1C631 729.9 632 729.6 633 729.3C634 729 635 728.7 636 728.5C637 728.2 638 727.9 639 727.6C640 727.3 641 727 642 726.7C643 726.4 644 726.1 645 725.9C646 725.6 647 725.3 648 725.1C649 724.8 650 724.6 651 724.4C652 724.2 653 724.1 654 723.9C655 723.8 656 723.7 657 723.4C658 723.1 659 722.7 660 722.2C661 721.7 662 721.1 663 720.2C664 719.4 665 718.4 666 717.1C667 715.8 668 714.2 669 712.6C670 711 671 709.1 672 707.4C673 705.7 674 703.9 675 702.3C676 700.7 677 699.2 678 697.8C679 696.4 680 695.2 681 694C682 692.7 683 691.6 684 690.3C685 689 686 687.7 687 686.2C688 684.6 689 682.9 690 681.1C691 679.3 692 677.4 693 675.5C694 673.6 695 671.7 696 669.7C697 667.8 698 665.8 699 663.8C700 661.7 701 659.6 702 657.4C703 655.1 704 652.7 705 650.3C706 647.8 707 645.3 708 642.7C709 640.2 710 637.7 711 635.1C712 632.6 713 630 714 627.5C715 625 716 622.4 717 620C718 617.5 719 615 720 612.7C721 610.3 722 608.1 723 605.9C724 603.7 725 601.6 726 599.4C727 597.3 728 595.2 729 593.1C730 591 731 588.9 732 586.8C733 584.7 734 582.7 735 580.6C736 578.5 737 576.4 738 574.3C739 572.2 740 570.1 741 568C742 565.9 743 563.8 744 561.7C745 559.6 746 557.5 747 555.4C748 553.2 749 551.1 750 549C751 546.9 752 544.7 753 542.5C754 540.3 755 538 756 535.7C757 533.5 758 531.2 759 528.9C760 526.6 761 524.2 762 522C763 519.7 764 517.4 765 515.2C766 513.1 767 511 768 509.2C769 507.4 770 505.8 771 504.3C772 502.9 773 501.6 774 500.2C775 498.8 776 497.4 777 495.8C778 494.2 779 492.5 780 490.7C781 488.9 782 487 783 485.2C784 483.3 785 481.4 786 479.5C787 477.6 788 475.7 789 473.9C790 472 791 470.1 792 468.2C793 466.3 794 464.4 795 462.5C796 460.6 797 458.7 798 456.8C799 454.8 800 452.9 801 450.9C802 449 803 447 804 445C805 443 806 441 807 439C808 437 809 434.9 810 432.9C811 430.8 812 428.7 813 426.7C814 424.7 815 422.7 816 420.9C817 419.1 818 417.5 819 416C820 414.5 821 413.1 822 412C823 410.9 824 409.9 825 409.2C826 408.5 827 408.1 828 407.8C829 407.5 830 407.5 831 407.5C832 407.5 833 407.6 834 407.8C835 407.9 836 408.1 837 408.3C838 408.6 839 408.8 840 409.1C841 409.5 842 409.9 843 410.2C844 410.6 845 411 846 411.4C847 411.7 848 412 849 412.3C850 412.5 851 412.7 852 412.9C853 413 854 413.1 855 413.1C856 413.1 857 413 858 412.9C859 412.7 860 412.5 861 412.3C862 412 863 411.7 864 411.3C865 411 866 410.6 867 410.2C868 409.9 869 409.6 870 409.3C871 409 872 408.8 873 408.6C874 408.4 875 408.3 876 408C877 407.8 878 407.5 879 407.1C880 406.7 881 406.3 882 405.8C883 405.3 884 404.6 885 404.1C886 403.6 887 403 888 402.6C889 402.3 890 402.1 891 402.2C892 402.3 893 402.7 894 403.4C895 404.1 896 405.1 897 406.1C898 407.2 899 408.4 900 409.6C901 410.8 902 412.1 903 413.4C904 414.7 905 416.1 906 417.5C907 418.9 908 420.4 909 421.8C910 423.2 911 424.7 912 426.2C913 427.6 914 429 915 430.3C916 431.6 917 432.8 918 434C919 435.1 920 436.3 921 437.4C922 438.5 923 439.7 924 440.7C925 441.8 926 442.9 927 443.8C928 444.8 929 445.6 930 446.4C931 447.1 932 447.7 933 448.3C934 448.9 935 449.4 936 449.9C937 450.5 938 451 939 451.5C940 452 941 452.5 942 452.9C943 453.3 944 453.6 945 453.9C946 454.2 947 454.4 948 454.6C949 454.8 950 455 951 455.2C952 455.4 953 455.5 954 455.7C955 455.9 956 456.2 957 456.4C958 456.7 959 457 960 457.4C961 457.7 962 458.1 963 458.5C964 458.9 965 459.4 966 460C967 460.5 968 461.2 969 461.9C970 462.5 971 463.2 972 464C973 464.8 974 465.5 975 466.4C976 467.3 977 468.3 978 469.5C979 470.7 980 472.1 981 473.6C982 475.1 983 476.8 984 478.5C985 480.3 986 482.1 987 484.1C988 486.1 989 488.1 990 490.4C991 492.7 992 495.2 993 497.9C994 500.6 995 503.6 996 506.5C997 509.3 998 512.4 999 515.2C1000 518.1 1001 520.8 1002 523.4C1003 526 1004 528.5 1005 530.9C1006 533.4 1007 535.9 1008 538.3C1009 540.8 1010 543.3 1011 545.8C1012 548.3 1013 550.8 1014 553.2C1015 555.7 1016 558.2 1017 560.5C1018 562.9 1019 565.2 1020 567.4C1021 569.7 1022 571.7 1023 573.9C1024 576.1 1025 578.2 1026 580.4C1027 582.7 1028 585 1029 587.4C1030 589.7 1031 592.1 1032 594.6C1033 597 1034 599.4 1035 601.8C1036 604.2 1037 606.7 1038 609C1039 611.4 1040 613.9 1041 616.1C1042 618.3 1043 620.4 1044 622.2C1045 624 1046 625.4 1047 626.8C1048 628.1 1049 629.2 1050 630.4C1051 631.5 1052 632.5 1053 633.5C1054 634.5 1055 635.5 1056 636.2C1057 637 1058 637.7 1059 638.1C1060 638.5 1061 638.6 1062 638.7C1063 638.8 1064 638.6 1065 638.7C1066 638.7 1067 638.9 1068 639.2C1069 639.4 1070 639.9 1071 640.2C1072 640.6 1073 641.1 1074 641.4C1075 641.7 1076 642 1077 642.1C1078 642.2 1079 642.2 1080 642.1C1081 642 1082 641.8 1083 641.4C1084 641 1085 640.4 1086 639.9C1087 639.3 1088 638.6 1089 637.8C1090 637.1 1091 636.3 1092 635.3C1093 634.3 1094 633.1 1095 631.9C1096 630.7 1097 629.4 1098 628.1C1099 626.7 1100 625.3 1101 623.7C1102 622 1103 620.3 1104 618.2C1105 616.1 1106 613.6 1107 611.1C1108 608.5 1109 605.7 1110 603C1111 600.3 1112 597.5 1113 594.7C1114 591.9 1115 589.1 1116 586.3C1117 583.5 1118 580.6 1119 577.9C1120 575.2 1121 572.5 1122 570C1123 567.5 1124 565.2 1125 563C1126 560.8 1127 558.7 1128 556.7C1129 554.6 1130 552.7 1131 550.6C1132 548.5 1133 546.5 1134 544.2C1135 542 1136 539.6 1137 537.2C1138 534.8 1139 532.2 1140 529.8C1141 527.3 1142 524.7 1143 522.3C1144 520 1145 517.6 1146 515.4C1147 513.3 1148 511.3 1149 509.4C1150 507.6 1151 505.9 1152 504.2C1153 502.6 1154 501 1155 499.6C1156 498.1 1157 496.8 1158 495.7C1159 494.6 1160 493.7 1161 493C1162 492.2 1163 491.6 1164 491.2C1165 490.7 1166 490.3 1167 490.1C1168 489.8 1169 489.9 1170 489.8C1171 489.7 1172 489.8 1173 489.6C1174 489.5 1175 489.2 1176 488.6C1177 488.1 1178 487.3 1179 486.4C1180 485.5 1181 484.4 1182 483.3C1183 482.2 1184 480.9 1185 479.6C1186 478.3 1187 476.9 1188 475.6C1189 474.2 1190 472.9 1191 471.8C1192 470.6 1193 469.6 1194 468.6C1195 467.6 1196 466.7 1197 465.7C1198 464.7 1199 463.7 1200 462.5C1201 461.4 1202 460.1 1203 458.8C1204 457.5 1205 456.1 1206 454.8C1207 453.4 1208 452 1209 450.6C1210 449.2 1211 447.8 1212 446.4C1213 445.1 1214 443.6 1215 442.4C1216 441.2 1217 440 1218 439C1219 438.1 1220 437.3 1221 436.7C1222 436 1223 435.5 1224 435.1C1225 434.7 1226 434.4 1227 434.2C1228 434.1 1229 434.2 1230 434.3C1231 434.4 1232 434.6 1233 434.7C1234 434.8 1235 434.9 1236 434.8C1237 434.7 1238 434.4 1239 434C1240 433.6 1241 433 1242 432.4C1243 431.8 1244 431.1 1245 430.5C1246 429.9 1247 429.3 1248 428.8C1249 428.3 1250 427.8 1251 427.4C1252 427 1253 426.8 1254 426.4C1255 426.1 1256 425.8 1257 425.4C1258 424.9 1259 424.5 1260 423.7C1261 422.9 1262 421.9 1263 420.7C1264 419.4 1265 417.9 1266 416.4C1267 414.8 1268 413.1 1269 411.5C1270 409.8 1271 408.1 1272 406.4C1273 404.7 1274 403 1275 401.3C1276 399.6 1277 397.9 1278 396.2C1279 394.5 1280 392.8 1281 391.1C1282 389.5 1283 387.9 1284 386.3C1285 384.8 1286 383.3 1287 381.9C1288 380.5 1289 379.1 1290 377.7C1291 376.3 1292 375 1293 373.6C1294 372.2 1295 370.8 1296 369.3C1297 367.8 1298 366.2 1299 364.6C1300 363 1301 361.3 1302 359.6C1303 357.9 1304 356.1 1305 354.4C1306 352.6 1307 350.9 1308 349.2C1309 347.5 1310 345.9 1311 344.4C1312 342.9 1313 341.6 1314 340.3C1315 339 1316 337.9 1317 336.8C1318 335.6 1319 334.5 1320 333.4C1321 332.3 1322 331.2 1323 330.1C1324 329.1 1325 328 1326 327.1C1327 326.2 1328 325.4 1329 324.7C1330 324 1331 323.4 1332 322.8C1333 322.2 1334 321.7 1335 321.1C1336 320.4 1337 319.9 1338 319C1339 318.1 1340 317.1 1341 315.9C1342 314.6 1343 313.1 1344 311.6C1345 310 1346 308.3 1347 306.6C1348 304.9 1349 303.2 1350 301.5C1351 299.8 1352 298.1 1353 296.4C1354 294.7 1355 293 1356 291.3C1357 289.6 1358 287.9 1359 286.1C1360 284.3 1361 282.5 1362 280.5C1363 278.5 1364 276.2 1365 274C1366 271.8 1367 269.4 1368 267.2C1369 265 1370 262.8 1371 261C1372 259.2 1373 257.5 1374 256.3C1375 255 1376 254.1 1377 253.4C1378 252.8 1379 252.5 1380 252.3C1381 252.2 1382 252.3 1383 252.4C1384 252.5 1385 252.8 1386 253C1387 253.2 1388 253.5 1389 253.8C1390 254.1 1391 254.4 1392 254.8C1393 255.2 1394 255.6 1395 256.1C1396 256.7 1397 257.4 1398 258.1C1399 258.8 1400 259.7 1401 260.5C1402 261.4 1403 262.3 1404 263.3C1405 264.3 1406 265.3 1407 266.4C1408 267.6 1409 268.8 1410 270.1C1411 271.5 1412 273 1413 274.6C1414 276.1 1415 277.7 1416 279.2C1417 280.7 1418 282.1 1419 283.5C1420 284.8 1421 286.1 1422 287.3C1423 288.5 1424 289.6 1425 290.6C1426 291.6 1427 292.6 1428 293.5C1429 294.5 1430 295.4 1431 296.4C1432 297.4 1433 298.5 1434 299.3C1435 300.2 1436 301.1 1437 301.6C1438 302.1 1439 302.3 1440 302.4C1441 302.5 1442 302.3 1443 302.2C1444 302.1 1445 301.8 1446 301.6C1447 301.4 1448 301.2 1449 301.1C1450 301 1451 300.9 1452 301.1C1453 301.3 1454 301.6 1455 302.2C1456 302.8 1457 303.5 1458 304.6C1459 305.7 1460 307.2 1461 308.7C1462 310.3 1463 312.1 1464 313.9C1465 315.7 1466 317.6 1467 319.5C1468 321.4 1469 323.2 1470 325.2C1471 327.1 1472 329.1 1473 331.1C1474 333.2 1475 335.5 1476 337.8C1477 340 1478 342.5 1479 344.8C1480 347.1 1481 349.5 1482 351.5C1483 353.5 1484 355.3 1485 356.8C1486 358.3 1487 359.5 1488 360.6C1489 361.7 1490 362.5 1491 363.3C1492 364.1 1493 364.7 1494 365.3C1495 365.9 1496 366.4 1497 366.8C1498 367.2 1499 367.5 1500 367.8C1501 368 1502 368.2 1503 368.5C1504 368.7 1505 368.9 1506 369C1507 369.2 1508 369.3 1509 369.4C1510 369.5 1511 369.5 1512 369.7C1513 369.9 1514 370.1 1515 370.5C1516 370.9 1517 371.6 1518 372.2C1519 372.9 1520 373.8 1521 374.5C1522 375.3 1523 376.1 1524 376.8C1525 377.6 1526 378.3 1527 379.1C1528 379.8 1529 380.6 1530 381.5C1531 382.4 1532 383.4 1533 384.5C1534 385.6 1535 386.9 1536 388.2C1537 389.6 1538 391.2 1539 392.8C1540 394.3 1541 396 1542 397.7C1543 399.4 1544 401.1 1545 402.9C1546 404.7 1547 406.5 1548 408.5C1549 410.4 1550 412.4 1551 414.4C1552 416.5 1553 418.6 1554 420.8C1555 423 1556 425.3 1557 427.8C1558 430.2 1559 432.9 1560 435.5C1561 438.1 1562 440.9 1563 443.6C1564 446.3 1565 449.1 1566 451.7C1567 454.3 1568 457 1569 459.2C1570 461.5 1571 463.4 1572 465.1C1573 466.7 1574 467.9 1575 469C1576 470.1 1577 470.9 1578 471.7C1579 472.5 1580 473.1 1581 473.7C1582 474.4 1583 475 1584 475.6C1585 476.2 1586 476.8 1587 477.4C1588 477.9 1589 478.5 1590 479.1C1591 479.6 1592 480.1 1593 480.6C1594 481.1 1595 481.5 1596 481.9C1597 482.3 1598 482.7 1599 483.1C1600 483.5 1601 483.9 1602 484.3C1603 484.7 1604.5 485.3 1605 485.6" stroke="#2962ff" stroke-width="1.2" fill="none"/>
<path d="M403.2 404L1606.7 99.4" stroke="#2a2e39" stroke-width="2.3" stroke-dasharray="10 12" fill="none"/>
<path d="M1040.6 832.3L1441 156" stroke="#434651" stroke-width="2.2" stroke-dasharray="10 12" fill="none"/>
<path d="M611.9 1290.9L1423.4 334.7" stroke="#5a5d68" stroke-width="3" stroke-linecap="round" fill="none"/>
<path d="M1371.3 271L2095.9 39.5" stroke="#2962ff" stroke-width="2.1" fill="none"/>
<path d="M1369 330.7L2073.3 741.2" stroke="#2962ff" stroke-width="2.1" fill="none"/>
<text x="1958.7" y="114.9" fill="#1a4bd0" font-size="15" font-weight="bold" textLength="30" lengthAdjust="spacingAndGlyphs">PThi</text>
<text x="2021.7" y="642.9" fill="#1a4bd0" font-size="15" font-weight="bold" textLength="30.2" lengthAdjust="spacingAndGlyphs">PTlo</text>
<ellipse cx="1732" cy="775.6" rx="107.6" ry="71.1" transform="rotate(1.5 1732 775.6)" stroke="#787b86" stroke-width="1.3" fill="none"/>
<text x="1668.2" y="757.1" fill="#787b86" font-size="15" font-weight="bold" textLength="66" lengthAdjust="spacingAndGlyphs">fair value</text>
<path d="M0 439.5H2209" stroke="#6b7a90" stroke-width="1" stroke-dasharray="5 6" stroke-dashoffset="6.94"/>
<path d="M0 471.5H2180" stroke="#26a69a" stroke-width="1" stroke-dasharray="1 2"/>
<rect x="184.9" y="1264.5" width="21" height="22" rx="3" fill="#fff" stroke="#50535e" stroke-width="2.2"/>
<path d="M192.2 1270.1h7v2h-5v2.6h4.6v2h-4.6v2.3h5v2h-7z" fill="#50535e"/>
<rect x="458" y="1264.5" width="21" height="22" rx="3" fill="#fff" stroke="#50535e" stroke-width="2.2"/>
<path d="M465.3 1270.1h7v2h-5v2.6h4.6v2h-4.6v2.3h5v2h-7z" fill="#50535e"/>
<rect x="759.9" y="1264.5" width="21" height="22" rx="3" fill="#fff" stroke="#50535e" stroke-width="2.2"/>
<path d="M767.2 1270.1h7v2h-5v2.6h4.6v2h-4.6v2.3h5v2h-7z" fill="#50535e"/>
<rect x="1033" y="1264.5" width="21" height="22" rx="3" fill="#fff" stroke="#50535e" stroke-width="2.2"/>
<path d="M1040.3 1270.1h7v2h-5v2.6h4.6v2h-4.6v2.3h5v2h-7z" fill="#50535e"/>
<rect x="1331.8" y="1264.5" width="21" height="22" rx="3" fill="#fff" stroke="#50535e" stroke-width="2.2"/>
<path d="M1339.1 1270.1h7v2h-5v2.6h4.6v2h-4.6v2.3h5v2h-7z" fill="#50535e"/>
<rect x="1606" y="1264.5" width="21" height="22" rx="3" fill="#fff" stroke="#e040fb" stroke-width="2.2"/>
<path d="M1613.3 1270.1h7v2h-5v2.6h4.6v2h-4.6v2.3h5v2h-7z" fill="#e040fb"/>
</g>
<rect x="2237" y="0" width="85" height="1292" fill="#fff"/>
<path d="M2237.5 0V1326" stroke="#e0e3eb" stroke-width="1"/>
<text class="pl" transform="translate(2250 23.5) scale(1 1.05)">140.00</text>
<text class="pl" transform="translate(2250 80.5) scale(1 1.05)">132.00</text>
<text class="pl" transform="translate(2250 140.5) scale(1 1.05)">124.00</text>
<text class="pl" transform="translate(2250 179.5) scale(1 1.05)">119.00</text>
<text class="pl" transform="translate(2250 220.5) scale(1 1.05)">114.00</text>
<text class="pl" transform="translate(2250 263.5) scale(1 1.05)">109.00</text>
<text class="pl" transform="translate(2250 318.5) scale(1 1.05)">103.00</text>
<text class="pl" transform="translate(2250 356.5) scale(1 1.05)">99.00</text>
<text class="pl" transform="translate(2250 395.5) scale(1 1.05)">95.00</text>
<text class="pl" transform="translate(2250 437.5) scale(1 1.05)">91.00</text>
<text class="pl" transform="translate(2250 480.5) scale(1 1.05)">87.00</text>
<text class="pl" transform="translate(2250 525.5) scale(1 1.05)">83.00</text>
<text class="pl" transform="translate(2250 572.5) scale(1 1.05)">79.00</text>
<text class="pl" transform="translate(2250 622.5) scale(1 1.05)">75.00</text>
<text class="pl" transform="translate(2250 675.5) scale(1 1.05)">71.00</text>
<text class="pl" transform="translate(2250 716.5) scale(1 1.05)">68.00</text>
<text class="pl" transform="translate(2250 760.5) scale(1 1.05)">65.00</text>
<text class="pl" transform="translate(2250 805.5) scale(1 1.05)">62.00</text>
<text class="pl" transform="translate(2250 853.5) scale(1 1.05)">59.00</text>
<text class="pl" transform="translate(2250 903.5) scale(1 1.05)">56.00</text>
<text class="pl" transform="translate(2250 956.5) scale(1 1.05)">53.00</text>
<text class="pl" transform="translate(2250 1002.5) scale(1 1.05)">50.50</text>
<text class="pl" transform="translate(2250 1041.5) scale(1 1.05)">48.50</text>
<text class="pl" transform="translate(2250 1081.5) scale(1 1.05)">46.50</text>
<text class="pl" transform="translate(2250 1123.5) scale(1 1.05)">44.50</text>
<text class="pl" transform="translate(2250 1162.5) scale(1 1.05)">42.76</text>
<text class="pl" transform="translate(2250 1202.5) scale(1 1.05)">41.00</text>
<text class="pl" transform="translate(2250 1244.5) scale(1 1.05)">39.26</text>
<text class="pl" transform="translate(2250 1284.5) scale(1 1.05)">37.64</text>
<rect x="2209" y="426" width="86" height="26.7" rx="2.5" fill="#131722"/>
<path d="M2237.5 426V452.7" stroke="#d1d4dc" stroke-width="1"/>
<circle cx="2222.3" cy="439.4" r="9.2" stroke="#d1d4dc" stroke-width="1.2" fill="none"/>
<path d="M2222.3 434.4V444.4M2217.3 439.4H2227.3" stroke="#fff" stroke-width="1.2"/>
<text x="2250.2" y="445" fill="#fff" font-size="15" font-weight="bold" textLength="36.5" lengthAdjust="spacingAndGlyphs">90.34</text>
<rect x="2180" y="461" width="57" height="20.7" rx="2.5" fill="#26a69a"/>
<text x="2186" y="477" fill="#fff" font-size="15" textLength="41.7" lengthAdjust="spacingAndGlyphs">ALFEN</text>
<rect x="2237" y="461" width="79" height="38.6" rx="2.5" fill="#26a69a"/>
<text x="2250" y="477" fill="#fff" font-size="15" textLength="36.3" lengthAdjust="spacingAndGlyphs">87.32</text>
<text x="2250" y="495" fill="#fff" fill-opacity="0.82" font-size="15" textLength="57.7" lengthAdjust="spacingAndGlyphs">01:55:53</text>
<rect x="2237" y="499.6" width="58" height="20.9" rx="2.5" fill="#ef5350"/>
<text x="2250" y="515.5" fill="#fff" font-size="15" textLength="36.3" lengthAdjust="spacingAndGlyphs">86.98</text>
<rect x="2237" y="914" width="58" height="20.8" rx="2.5" fill="#9598a1"/>
<text x="2250.8" y="929.8" fill="#131722" font-size="15" textLength="35.5" lengthAdjust="spacingAndGlyphs">54.50</text>
<rect x="0" y="1292" width="2322" height="34" fill="#fff"/>
<path d="M0 1292.5 H2322" stroke="#e0e3eb" stroke-width="1"/>
<text class="tl" transform="translate(105.3 1315) scale(1 1.08)">Jul</text>
<text class="tl" transform="translate(252.5 1315) scale(1 1.08)">Oct</text>
<text class="tl" transform="translate(396 1315) scale(1 1.08)" font-weight="bold">2021</text>
<text class="tl" transform="translate(537 1315) scale(1 1.08)">Apr</text>
<text class="tl" transform="translate(678 1315) scale(1 1.08)">Jul</text>
<text class="tl" transform="translate(825 1315) scale(1 1.08)">Oct</text>
<text class="tl" transform="translate(971 1315) scale(1 1.08)" font-weight="bold">2022</text>
<text class="tl" transform="translate(1114 1315) scale(1 1.08)">Apr</text>
<text class="tl" transform="translate(1254.6 1315) scale(1 1.08)">Jul</text>
<text class="tl" transform="translate(1401 1315) scale(1 1.08)">Oct</text>
<text class="tl" transform="translate(1544 1315) scale(1 1.08)" font-weight="bold">2023</text>
<text class="tl" transform="translate(1689 1315) scale(1 1.08)">Apr</text>
<text class="tl" transform="translate(1828 1315) scale(1 1.08)">Jul</text>
<text class="tl" transform="translate(1973 1315) scale(1 1.08)">Oct</text>
<path d="M2237.5 1292V1326" stroke="#e0e3eb" stroke-width="1"/>
<circle cx="2279.4" cy="1309.3" r="6.4" stroke="#131722" stroke-width="1.3" fill="none"/>
<path d="M2286 1309.3L2288.6 1309.3M2284.1 1314L2285.9 1315.8M2279.4 1315.9L2279.4 1318.5M2274.7 1314L2272.9 1315.8M2272.8 1309.3L2270.2 1309.3M2274.7 1304.6L2272.9 1302.8M2279.4 1302.7L2279.4 1300.1M2284.1 1304.6L2285.9 1302.8" stroke="#131722" stroke-width="1.3"/>
<path d="M0 1326.5H2322" stroke="#e0e3eb" stroke-width="1"/>
<rect x="0" y="1375" width="2322" height="5" fill="#e0e3eb"/>
<text class="bt" transform="translate(-6.5 1357) scale(1 1.07)" textLength="11.7" lengthAdjust="spacingAndGlyphs">D</text>
<text class="bt" transform="translate(23.9 1357) scale(1 1.07)" textLength="17.7" lengthAdjust="spacingAndGlyphs">1Y</text>
<text class="bt" transform="translate(60 1357) scale(1 1.07)" textLength="18" lengthAdjust="spacingAndGlyphs">5Y</text>
<text class="bt" transform="translate(95.6 1357) scale(1 1.07)" textLength="20.7" lengthAdjust="spacingAndGlyphs">All</text>
<path d="M137.5 1337.5V1364.5" stroke="#e0e3eb" stroke-width="1"/>
<path d="M160 1349.8V1345a2.5 2.5 0 0 1 2.5-2.5h13.2a2.5 2.5 0 0 1 2.5 2.5v11.4a2.5 2.5 0 0 1-2.5 2.5H169.2M160 1347.8H178.2M164.5 1341.1v3.5M173.4 1341.1v3.5M158.2 1355.3H166.6M163.2 1351.3l3.9 4-3.9 4" stroke="#131722" stroke-width="1.25" fill="none"/>
<text class="bt" transform="translate(1977.9 1357) scale(1 1.07)" textLength="134" lengthAdjust="spacingAndGlyphs">15:19:07 (UTC+1)</text>
<path d="M2133.5 1337V1364" stroke="#e0e3eb" stroke-width="1"/>
<text class="bt" transform="translate(2154.9 1357) scale(1 1.07)" textLength="24.1" lengthAdjust="spacingAndGlyphs">adj</text>
<text class="bt" transform="translate(2197.8 1357) scale(1 1.07)" textLength="16" lengthAdjust="spacingAndGlyphs">%</text>
<text class="bt" transform="translate(2232.8 1357) scale(1 1.07)" style="fill:#2962ff" textLength="22.6" lengthAdjust="spacingAndGlyphs">log</text>
<text class="bt" transform="translate(2273.4 1357) scale(1 1.07)" textLength="34.6" lengthAdjust="spacingAndGlyphs">auto</text>
</svg></body></html>
